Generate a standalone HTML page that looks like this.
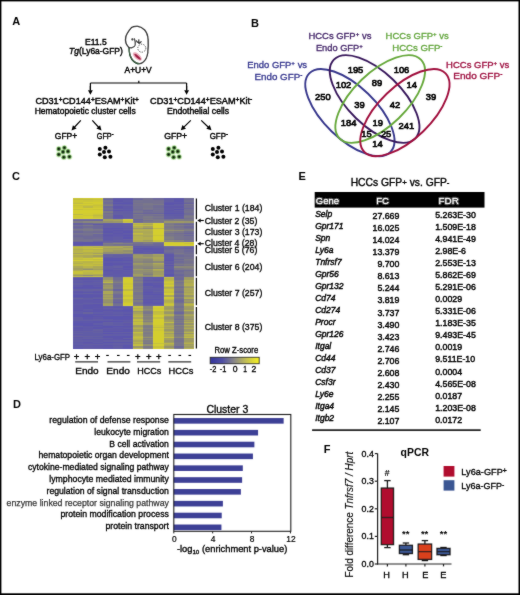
<!DOCTYPE html>
<html><head><meta charset="utf-8"><style>
html,body{margin:0;padding:0;background:#fff;}
#root{position:relative;width:520px;height:595px;overflow:hidden;background:#fff;}
svg{position:absolute;left:0;top:0;font-family:"Liberation Sans", sans-serif;}
</style></head><body><div id="root">
<svg width="520" height="595" viewBox="0 0 520 595">
<defs><filter id="soft" x="0" y="0" width="520" height="595" filterUnits="userSpaceOnUse"><feConvolveMatrix order="3" kernelMatrix="1 2 1 2 28 2 1 2 1" edgeMode="duplicate" preserveAlpha="false"/></filter></defs>
<rect x="0" y="0" width="520" height="595" fill="#fff"/>
<g filter="url(#soft)">
<text x="12.20" y="25.30" font-size="11" text-anchor="start" font-weight="bold" font-style="normal" fill="#000" >A</text>
<text x="251.00" y="27.20" font-size="11" text-anchor="start" font-weight="bold" font-style="normal" fill="#000" >B</text>
<text x="12.00" y="180.00" font-size="11" text-anchor="start" font-weight="bold" font-style="normal" fill="#000" >C</text>
<text x="13.00" y="408.20" font-size="11" text-anchor="start" font-weight="bold" font-style="normal" fill="#000" >D</text>
<text x="298.60" y="179.60" font-size="11" text-anchor="start" font-weight="bold" font-style="normal" fill="#000" >E</text>
<text x="323.80" y="453.00" font-size="11" text-anchor="start" font-weight="bold" font-style="normal" fill="#000" >F</text>
<text x="85.00" y="44.50" font-size="8.8" text-anchor="start" font-weight="normal" font-style="normal" fill="#000" stroke="#000" stroke-width="0.42" textLength="21.70" lengthAdjust="spacingAndGlyphs" >E11.5</text>
<text x="69.10" y="53.60" font-size="8.8" text-anchor="start" font-weight="normal" font-style="normal" fill="#000" stroke="#000" stroke-width="0.42" textLength="53.70" lengthAdjust="spacingAndGlyphs" ><tspan font-style="italic">Tg</tspan>(Ly6a-GFP)</text>
<text x="124.50" y="73.10" font-size="9.2" text-anchor="start" font-weight="normal" font-style="normal" fill="#000" stroke="#000" stroke-width="0.46" textLength="27.20" lengthAdjust="spacingAndGlyphs" >A+U+V</text>
<path d="M131.6,27.5 C133,26.6 135.5,26.2 137.9,26.4 C140.5,26.7 142.8,28.2 144.6,30.0 C146.6,32.2 147.8,35.5 148.1,39.5 C148.4,44 148.2,49 147.7,53 C147.2,57 145.5,60.5 142.7,62.5 C140.5,64 137.8,63.9 135.6,62.6 C132.5,60.8 130.5,57.5 129.7,54 C129.2,51.5 129.2,49.5 129.2,47.9 C128,46.5 126.6,45 126,43 C125.4,41 125.4,38.5 125.9,36.5 C126.6,34 128,32 129.4,30.1 C130.2,29.1 130.9,28.2 131.6,27.5 Z" fill="#fff" stroke="#111" stroke-width="1.25"/>
<path d="M129.2,47.9 C129.2,49.5 129.2,51.5 129.7,54 C130.5,57.5 132.5,60.8 135.6,62.6 C136.8,63.3 138.2,63.7 139.6,63.7" fill="none" stroke="#2a5a35" stroke-width="1.3"/>
<ellipse cx="137.3" cy="56.4" rx="5.6" ry="2.7" transform="rotate(42 137.3 56.4)" fill="#eaa6b6" opacity="0.9"/>
<ellipse cx="137.6" cy="56.8" rx="4.2" ry="1.2" transform="rotate(42 137.6 56.8)" fill="#a01040"/>
<circle cx="141.8" cy="48.2" r="4.0" fill="none" stroke="#333" stroke-width="1.0" stroke-dasharray="1.2,1.3"/>
<circle cx="132.4" cy="39.4" r="1.1" fill="#111"/>
<path d="M134.4,38.4 C135.1,40.8 135.6,43.2 135.2,45.2 M136.3,40.4 C136.7,41.8 137.3,42.8 138.8,42.6 M138.7,39.4 L139.0,43.4 C139.8,43.3 140.8,42.4 141.4,41.2 M135.2,45.2 C134.6,46.2 133.8,46.9 132.8,47.3 M129.3,47.1 C130.2,47.8 131.4,48.2 132.8,47.3" fill="none" stroke="#111" stroke-width="1.1"/>
<g stroke="#000" stroke-width="1" fill="none">
<path d="M90.4,83 H186.6 M138.8,80.8 V83 M90.4,83 V90 M186.6,83 V90" stroke-width="1.2"/>
</g>
<line x1="90.40" y1="86.00" x2="90.40" y2="90.70" stroke="#000" stroke-width="1.2"/>
<path d="M90.40,94.80 L88.00,90.20 L92.80,90.20 Z" fill="#000"/>
<line x1="186.60" y1="86.00" x2="186.60" y2="90.70" stroke="#000" stroke-width="1.2"/>
<path d="M186.60,94.80 L184.20,90.20 L189.00,90.20 Z" fill="#000"/>
<line x1="80.80" y1="120.40" x2="74.43" y2="127.25" stroke="#000" stroke-width="1.2"/>
<path d="M71.50,130.40 L72.94,125.18 L76.60,128.59 Z" fill="#000"/>
<line x1="92.30" y1="120.40" x2="98.59" y2="127.24" stroke="#000" stroke-width="1.2"/>
<path d="M101.50,130.40 L96.41,128.56 L100.09,125.17 Z" fill="#000"/>
<line x1="190.80" y1="120.40" x2="183.87" y2="127.19" stroke="#000" stroke-width="1.2"/>
<path d="M180.80,130.20 L182.48,125.05 L185.98,128.63 Z" fill="#000"/>
<line x1="201.20" y1="120.40" x2="208.38" y2="127.24" stroke="#000" stroke-width="1.2"/>
<path d="M211.50,130.20 L206.30,128.70 L209.75,125.08 Z" fill="#000"/>
<text x="35.40" y="103.60" font-size="9" text-anchor="start" font-weight="normal" font-style="normal" fill="#000" stroke="#000" stroke-width="0.42" textLength="103.50" lengthAdjust="spacingAndGlyphs" >CD31<tspan font-size="6.5" baseline-shift="2.4">+</tspan>CD144<tspan font-size="6.5" baseline-shift="2.4">+</tspan>ESAM<tspan font-size="6.5" baseline-shift="2.4">+</tspan>Kit<tspan font-size="6.5" baseline-shift="2.4">+</tspan></text>
<text x="34.70" y="114.00" font-size="9" text-anchor="start" font-weight="normal" font-style="normal" fill="#000" stroke="#000" stroke-width="0.42" textLength="101.00" lengthAdjust="spacingAndGlyphs" >Hematopoietic cluster cells</text>
<text x="150.10" y="103.60" font-size="9" text-anchor="start" font-weight="normal" font-style="normal" fill="#000" stroke="#000" stroke-width="0.42" textLength="102.20" lengthAdjust="spacingAndGlyphs" >CD31<tspan font-size="6.5" baseline-shift="2.4">+</tspan>CD144<tspan font-size="6.5" baseline-shift="2.4">+</tspan>ESAM<tspan font-size="6.5" baseline-shift="2.4">+</tspan>Kit<tspan font-size="6.5" baseline-shift="3.2">-</tspan></text>
<text x="166.90" y="114.00" font-size="9" text-anchor="start" font-weight="normal" font-style="normal" fill="#000" stroke="#000" stroke-width="0.42" textLength="62.20" lengthAdjust="spacingAndGlyphs" >Endothelial cells</text>
<text x="54.80" y="139.40" font-size="9" text-anchor="start" font-weight="normal" font-style="normal" fill="#000" stroke="#000" stroke-width="0.42" textLength="22.40" lengthAdjust="spacingAndGlyphs" >GFP+</text>
<text x="96.80" y="139.40" font-size="9" text-anchor="start" font-weight="normal" font-style="normal" fill="#000" stroke="#000" stroke-width="0.42" textLength="16.80" lengthAdjust="spacingAndGlyphs" >GFP<tspan font-size="7" baseline-shift="3.2">-</tspan></text>
<text x="164.30" y="139.40" font-size="9" text-anchor="start" font-weight="normal" font-style="normal" fill="#000" stroke="#000" stroke-width="0.42" textLength="22.90" lengthAdjust="spacingAndGlyphs" >GFP+</text>
<text x="209.70" y="139.40" font-size="9" text-anchor="start" font-weight="normal" font-style="normal" fill="#000" stroke="#000" stroke-width="0.42" textLength="18.30" lengthAdjust="spacingAndGlyphs" >GFP<tspan font-size="7" baseline-shift="3.2">-</tspan></text>
<g>
<circle cx="58.80" cy="148.90" r="2.9" fill="#c4e8b0" opacity="0.85"/>
<circle cx="64.40" cy="147.80" r="2.9" fill="#c4e8b0" opacity="0.85"/>
<circle cx="63.00" cy="151.90" r="2.9" fill="#c4e8b0" opacity="0.85"/>
<circle cx="68.00" cy="151.40" r="2.9" fill="#c4e8b0" opacity="0.85"/>
<circle cx="58.80" cy="154.50" r="2.9" fill="#c4e8b0" opacity="0.85"/>
<circle cx="63.80" cy="157.20" r="2.9" fill="#c4e8b0" opacity="0.85"/>
<circle cx="69.40" cy="156.80" r="2.9" fill="#c4e8b0" opacity="0.85"/>
<circle cx="58.80" cy="148.90" r="2.05" fill="#3c7a2c"/>
<circle cx="64.40" cy="147.80" r="2.05" fill="#3c7a2c"/>
<circle cx="63.00" cy="151.90" r="2.05" fill="#3c7a2c"/>
<circle cx="68.00" cy="151.40" r="2.05" fill="#3c7a2c"/>
<circle cx="58.80" cy="154.50" r="2.05" fill="#3c7a2c"/>
<circle cx="63.80" cy="157.20" r="2.05" fill="#3c7a2c"/>
<circle cx="69.40" cy="156.80" r="2.05" fill="#3c7a2c"/>
<circle cx="58.80" cy="148.90" r="1.15" fill="#050505"/>
<circle cx="64.40" cy="147.80" r="1.15" fill="#050505"/>
<circle cx="63.00" cy="151.90" r="1.15" fill="#050505"/>
<circle cx="68.00" cy="151.40" r="1.15" fill="#050505"/>
<circle cx="58.80" cy="154.50" r="1.15" fill="#050505"/>
<circle cx="63.80" cy="157.20" r="1.15" fill="#050505"/>
<circle cx="69.40" cy="156.80" r="1.15" fill="#050505"/>
</g>
<circle cx="99.80" cy="148.90" r="2.0" fill="#000"/>
<circle cx="105.40" cy="147.80" r="2.0" fill="#000"/>
<circle cx="104.00" cy="151.90" r="2.0" fill="#000"/>
<circle cx="109.00" cy="151.40" r="2.0" fill="#000"/>
<circle cx="99.80" cy="154.50" r="2.0" fill="#000"/>
<circle cx="104.80" cy="157.20" r="2.0" fill="#000"/>
<circle cx="110.40" cy="156.80" r="2.0" fill="#000"/>
<g>
<circle cx="168.60" cy="148.90" r="2.9" fill="#c4e8b0" opacity="0.85"/>
<circle cx="174.20" cy="147.80" r="2.9" fill="#c4e8b0" opacity="0.85"/>
<circle cx="172.80" cy="151.90" r="2.9" fill="#c4e8b0" opacity="0.85"/>
<circle cx="177.80" cy="151.40" r="2.9" fill="#c4e8b0" opacity="0.85"/>
<circle cx="168.60" cy="154.50" r="2.9" fill="#c4e8b0" opacity="0.85"/>
<circle cx="173.60" cy="157.20" r="2.9" fill="#c4e8b0" opacity="0.85"/>
<circle cx="179.20" cy="156.80" r="2.9" fill="#c4e8b0" opacity="0.85"/>
<circle cx="168.60" cy="148.90" r="2.05" fill="#3c7a2c"/>
<circle cx="174.20" cy="147.80" r="2.05" fill="#3c7a2c"/>
<circle cx="172.80" cy="151.90" r="2.05" fill="#3c7a2c"/>
<circle cx="177.80" cy="151.40" r="2.05" fill="#3c7a2c"/>
<circle cx="168.60" cy="154.50" r="2.05" fill="#3c7a2c"/>
<circle cx="173.60" cy="157.20" r="2.05" fill="#3c7a2c"/>
<circle cx="179.20" cy="156.80" r="2.05" fill="#3c7a2c"/>
<circle cx="168.60" cy="148.90" r="1.15" fill="#050505"/>
<circle cx="174.20" cy="147.80" r="1.15" fill="#050505"/>
<circle cx="172.80" cy="151.90" r="1.15" fill="#050505"/>
<circle cx="177.80" cy="151.40" r="1.15" fill="#050505"/>
<circle cx="168.60" cy="154.50" r="1.15" fill="#050505"/>
<circle cx="173.60" cy="157.20" r="1.15" fill="#050505"/>
<circle cx="179.20" cy="156.80" r="1.15" fill="#050505"/>
</g>
<circle cx="212.80" cy="148.90" r="2.0" fill="#000"/>
<circle cx="218.40" cy="147.80" r="2.0" fill="#000"/>
<circle cx="217.00" cy="151.90" r="2.0" fill="#000"/>
<circle cx="222.00" cy="151.40" r="2.0" fill="#000"/>
<circle cx="212.80" cy="154.50" r="2.0" fill="#000"/>
<circle cx="217.80" cy="157.20" r="2.0" fill="#000"/>
<circle cx="223.40" cy="156.80" r="2.0" fill="#000"/>
<ellipse cx="349.90" cy="112.60" rx="56.50" ry="26.20" transform="rotate(44.00 349.90 112.60)" fill="none" stroke="#37378c" stroke-width="1.9"/>
<ellipse cx="374.60" cy="99.00" rx="56.60" ry="26.70" transform="rotate(44.00 374.60 99.00)" fill="none" stroke="#38195c" stroke-width="1.9"/>
<ellipse cx="380.20" cy="99.00" rx="56.60" ry="26.70" transform="rotate(-44.00 380.20 99.00)" fill="none" stroke="#66a83a" stroke-width="1.9"/>
<ellipse cx="404.90" cy="112.60" rx="56.50" ry="26.20" transform="rotate(-44.00 404.90 112.60)" fill="none" stroke="#a0103c" stroke-width="1.9"/>
<text x="355.50" y="72.80" font-size="9.4" text-anchor="middle" font-weight="normal" font-style="normal" fill="#000" stroke="#000" stroke-width="0.63" >195</text>
<text x="343.50" y="88.10" font-size="9.4" text-anchor="middle" font-weight="normal" font-style="normal" fill="#000" stroke="#000" stroke-width="0.63" >102</text>
<text x="377.00" y="85.50" font-size="9.4" text-anchor="middle" font-weight="normal" font-style="normal" fill="#000" stroke="#000" stroke-width="0.63" >89</text>
<text x="322.80" y="99.70" font-size="9.4" text-anchor="middle" font-weight="normal" font-style="normal" fill="#000" stroke="#000" stroke-width="0.63" >250</text>
<text x="359.50" y="108.20" font-size="9.4" text-anchor="middle" font-weight="normal" font-style="normal" fill="#000" stroke="#000" stroke-width="0.63" >39</text>
<text x="348.60" y="126.30" font-size="9.4" text-anchor="middle" font-weight="normal" font-style="normal" fill="#000" stroke="#000" stroke-width="0.63" >184</text>
<text x="377.80" y="126.30" font-size="9.4" text-anchor="middle" font-weight="normal" font-style="normal" fill="#000" stroke="#000" stroke-width="0.63" >19</text>
<text x="366.50" y="136.80" font-size="9.4" text-anchor="middle" font-weight="normal" font-style="normal" fill="#000" stroke="#000" stroke-width="0.63" >15</text>
<text x="386.10" y="136.80" font-size="9.4" text-anchor="middle" font-weight="normal" font-style="normal" fill="#000" stroke="#000" stroke-width="0.63" >25</text>
<text x="377.40" y="147.10" font-size="9.4" text-anchor="middle" font-weight="normal" font-style="normal" fill="#000" stroke="#000" stroke-width="0.63" >14</text>
<text x="401.50" y="72.80" font-size="9.4" text-anchor="middle" font-weight="normal" font-style="normal" fill="#000" stroke="#000" stroke-width="0.63" >106</text>
<text x="411.80" y="88.10" font-size="9.4" text-anchor="middle" font-weight="normal" font-style="normal" fill="#000" stroke="#000" stroke-width="0.63" >14</text>
<text x="431.00" y="99.70" font-size="9.4" text-anchor="middle" font-weight="normal" font-style="normal" fill="#000" stroke="#000" stroke-width="0.63" >39</text>
<text x="395.00" y="108.20" font-size="9.4" text-anchor="middle" font-weight="normal" font-style="normal" fill="#000" stroke="#000" stroke-width="0.63" >42</text>
<text x="406.30" y="128.50" font-size="9.4" text-anchor="middle" font-weight="normal" font-style="normal" fill="#000" stroke="#000" stroke-width="0.63" >241</text>
<text x="308.40" y="39.40" font-size="9.2" text-anchor="start" font-weight="normal" font-style="normal" fill="#45286a" stroke="#45286a" stroke-width="0.32" textLength="63.00" lengthAdjust="spacingAndGlyphs" >HCCs GFP<tspan font-size="6" baseline-shift="3">+</tspan> vs</text>
<text x="315.90" y="51.00" font-size="9.2" text-anchor="start" font-weight="normal" font-style="normal" fill="#45286a" stroke="#45286a" stroke-width="0.32" textLength="46.90" lengthAdjust="spacingAndGlyphs" >Endo GFP<tspan font-size="6" baseline-shift="3">+</tspan></text>
<text x="247.20" y="67.90" font-size="9.2" text-anchor="start" font-weight="normal" font-style="normal" fill="#37388f" stroke="#37388f" stroke-width="0.32" textLength="59.90" lengthAdjust="spacingAndGlyphs" >Endo GFP<tspan font-size="6" baseline-shift="3">+</tspan> vs</text>
<text x="254.50" y="79.60" font-size="9.2" text-anchor="start" font-weight="normal" font-style="normal" fill="#37388f" stroke="#37388f" stroke-width="0.32" textLength="47.80" lengthAdjust="spacingAndGlyphs" >Endo GFP<tspan font-size="6" baseline-shift="3">-</tspan></text>
<text x="385.60" y="38.80" font-size="9.2" text-anchor="start" font-weight="normal" font-style="normal" fill="#64a63e" stroke="#64a63e" stroke-width="0.32" textLength="63.20" lengthAdjust="spacingAndGlyphs" >HCCs GFP<tspan font-size="6" baseline-shift="3">+</tspan> vs</text>
<text x="392.20" y="51.00" font-size="9.2" text-anchor="start" font-weight="normal" font-style="normal" fill="#64a63e" stroke="#64a63e" stroke-width="0.32" textLength="50.20" lengthAdjust="spacingAndGlyphs" >HCCs GFP<tspan font-size="6" baseline-shift="3">-</tspan></text>
<text x="446.10" y="67.60" font-size="9.2" text-anchor="start" font-weight="normal" font-style="normal" fill="#9e1040" stroke="#9e1040" stroke-width="0.32" textLength="63.20" lengthAdjust="spacingAndGlyphs" >HCCs GFP<tspan font-size="6" baseline-shift="3">+</tspan> vs</text>
<text x="453.30" y="79.10" font-size="9.2" text-anchor="start" font-weight="normal" font-style="normal" fill="#9e1040" stroke="#9e1040" stroke-width="0.32" textLength="49.10" lengthAdjust="spacingAndGlyphs" >Endo GFP<tspan font-size="6" baseline-shift="3">-</tspan></text>
<g shape-rendering="crispEdges">
<rect x="72.70" y="197.90" width="10.14" height="1.28" fill="#cbc637"/>
<rect x="82.79" y="197.90" width="10.14" height="1.28" fill="#d0ca32"/>
<rect x="92.88" y="197.90" width="10.14" height="1.28" fill="#d4ce2e"/>
<rect x="102.97" y="197.90" width="10.14" height="1.28" fill="#76738e"/>
<rect x="113.07" y="197.90" width="10.14" height="1.28" fill="#635da4"/>
<rect x="123.16" y="197.90" width="10.14" height="1.28" fill="#615ca6"/>
<rect x="133.25" y="197.90" width="10.14" height="1.28" fill="#706c95"/>
<rect x="143.34" y="197.90" width="10.14" height="1.28" fill="#737091"/>
<rect x="153.43" y="197.90" width="10.14" height="1.28" fill="#6a659c"/>
<rect x="163.53" y="197.90" width="10.14" height="1.28" fill="#605aa7"/>
<rect x="173.62" y="197.90" width="10.14" height="1.28" fill="#5f5aa8"/>
<rect x="183.71" y="197.90" width="10.14" height="1.28" fill="#726e93"/>
<rect x="72.70" y="199.13" width="10.14" height="1.28" fill="#c2bd40"/>
<rect x="82.79" y="199.13" width="10.14" height="1.28" fill="#c0bb42"/>
<rect x="92.88" y="199.13" width="10.14" height="1.28" fill="#c4bf3e"/>
<rect x="102.97" y="199.13" width="10.14" height="1.28" fill="#6662a0"/>
<rect x="113.07" y="199.13" width="10.14" height="1.28" fill="#5b55ad"/>
<rect x="123.16" y="199.13" width="10.14" height="1.28" fill="#5b55ad"/>
<rect x="133.25" y="199.13" width="10.14" height="1.28" fill="#69659d"/>
<rect x="143.34" y="199.13" width="10.14" height="1.28" fill="#747190"/>
<rect x="153.43" y="199.13" width="10.14" height="1.28" fill="#6d6999"/>
<rect x="163.53" y="199.13" width="10.14" height="1.28" fill="#605ba7"/>
<rect x="173.62" y="199.13" width="10.14" height="1.28" fill="#5c57ab"/>
<rect x="183.71" y="199.13" width="10.14" height="1.28" fill="#6d6998"/>
<rect x="72.70" y="200.35" width="10.14" height="1.28" fill="#cdc835"/>
<rect x="82.79" y="200.35" width="10.14" height="1.28" fill="#cac538"/>
<rect x="92.88" y="200.35" width="10.14" height="1.28" fill="#cdc735"/>
<rect x="102.97" y="200.35" width="10.14" height="1.28" fill="#75728f"/>
<rect x="113.07" y="200.35" width="10.14" height="1.28" fill="#5d57aa"/>
<rect x="123.16" y="200.35" width="10.14" height="1.28" fill="#5f5aa8"/>
<rect x="133.25" y="200.35" width="10.14" height="1.28" fill="#75728f"/>
<rect x="143.34" y="200.35" width="10.14" height="1.28" fill="#737091"/>
<rect x="153.43" y="200.35" width="10.14" height="1.28" fill="#747090"/>
<rect x="163.53" y="200.35" width="10.14" height="1.28" fill="#625da4"/>
<rect x="173.62" y="200.35" width="10.14" height="1.28" fill="#5c56ac"/>
<rect x="183.71" y="200.35" width="10.14" height="1.28" fill="#726f92"/>
<rect x="72.70" y="201.58" width="10.14" height="1.28" fill="#cac438"/>
<rect x="82.79" y="201.58" width="10.14" height="1.28" fill="#d4ce2e"/>
<rect x="92.88" y="201.58" width="10.14" height="1.28" fill="#d4ce2e"/>
<rect x="102.97" y="201.58" width="10.14" height="1.28" fill="#706c94"/>
<rect x="113.07" y="201.58" width="10.14" height="1.28" fill="#605aa8"/>
<rect x="123.16" y="201.58" width="10.14" height="1.28" fill="#5d58aa"/>
<rect x="133.25" y="201.58" width="10.14" height="1.28" fill="#737091"/>
<rect x="143.34" y="201.58" width="10.14" height="1.28" fill="#736f91"/>
<rect x="153.43" y="201.58" width="10.14" height="1.28" fill="#75718f"/>
<rect x="163.53" y="201.58" width="10.14" height="1.28" fill="#5e58aa"/>
<rect x="173.62" y="201.58" width="10.14" height="1.28" fill="#5e58a9"/>
<rect x="183.71" y="201.58" width="10.14" height="1.28" fill="#6e6a97"/>
<rect x="72.70" y="202.81" width="10.14" height="1.28" fill="#c0bb42"/>
<rect x="82.79" y="202.81" width="10.14" height="1.28" fill="#cac538"/>
<rect x="92.88" y="202.81" width="10.14" height="1.28" fill="#d2cc30"/>
<rect x="102.97" y="202.81" width="10.14" height="1.28" fill="#716d94"/>
<rect x="113.07" y="202.81" width="10.14" height="1.28" fill="#5a54ae"/>
<rect x="123.16" y="202.81" width="10.14" height="1.28" fill="#5a54ae"/>
<rect x="133.25" y="202.81" width="10.14" height="1.28" fill="#78758b"/>
<rect x="143.34" y="202.81" width="10.14" height="1.28" fill="#79768a"/>
<rect x="153.43" y="202.81" width="10.14" height="1.28" fill="#747090"/>
<rect x="163.53" y="202.81" width="10.14" height="1.28" fill="#5b55ad"/>
<rect x="173.62" y="202.81" width="10.14" height="1.28" fill="#5c56ac"/>
<rect x="183.71" y="202.81" width="10.14" height="1.28" fill="#67629f"/>
<rect x="72.70" y="204.03" width="10.14" height="1.28" fill="#d4ce2e"/>
<rect x="82.79" y="204.03" width="10.14" height="1.28" fill="#d4ce2e"/>
<rect x="92.88" y="204.03" width="10.14" height="1.28" fill="#cdc835"/>
<rect x="102.97" y="204.03" width="10.14" height="1.28" fill="#78758b"/>
<rect x="113.07" y="204.03" width="10.14" height="1.28" fill="#625da5"/>
<rect x="123.16" y="204.03" width="10.14" height="1.28" fill="#615ca6"/>
<rect x="133.25" y="204.03" width="10.14" height="1.28" fill="#737091"/>
<rect x="143.34" y="204.03" width="10.14" height="1.28" fill="#7b7888"/>
<rect x="153.43" y="204.03" width="10.14" height="1.28" fill="#7b7988"/>
<rect x="163.53" y="204.03" width="10.14" height="1.28" fill="#5d57aa"/>
<rect x="173.62" y="204.03" width="10.14" height="1.28" fill="#605ba7"/>
<rect x="183.71" y="204.03" width="10.14" height="1.28" fill="#79768b"/>
<rect x="72.70" y="205.26" width="10.14" height="1.28" fill="#c7c23b"/>
<rect x="82.79" y="205.26" width="10.14" height="1.28" fill="#c9c339"/>
<rect x="92.88" y="205.26" width="10.14" height="1.28" fill="#c6c03c"/>
<rect x="102.97" y="205.26" width="10.14" height="1.28" fill="#7e7c84"/>
<rect x="113.07" y="205.26" width="10.14" height="1.28" fill="#625da5"/>
<rect x="123.16" y="205.26" width="10.14" height="1.28" fill="#635ea4"/>
<rect x="133.25" y="205.26" width="10.14" height="1.28" fill="#76738e"/>
<rect x="143.34" y="205.26" width="10.14" height="1.28" fill="#77748c"/>
<rect x="153.43" y="205.26" width="10.14" height="1.28" fill="#706d94"/>
<rect x="163.53" y="205.26" width="10.14" height="1.28" fill="#605ba7"/>
<rect x="173.62" y="205.26" width="10.14" height="1.28" fill="#625ca5"/>
<rect x="183.71" y="205.26" width="10.14" height="1.28" fill="#706c95"/>
<rect x="72.70" y="206.49" width="10.14" height="1.28" fill="#cdc735"/>
<rect x="82.79" y="206.49" width="10.14" height="1.28" fill="#beb944"/>
<rect x="92.88" y="206.49" width="10.14" height="1.28" fill="#ccc636"/>
<rect x="102.97" y="206.49" width="10.14" height="1.28" fill="#6d6998"/>
<rect x="113.07" y="206.49" width="10.14" height="1.28" fill="#5d57aa"/>
<rect x="123.16" y="206.49" width="10.14" height="1.28" fill="#605aa7"/>
<rect x="133.25" y="206.49" width="10.14" height="1.28" fill="#736f92"/>
<rect x="143.34" y="206.49" width="10.14" height="1.28" fill="#76738e"/>
<rect x="153.43" y="206.49" width="10.14" height="1.28" fill="#706c94"/>
<rect x="163.53" y="206.49" width="10.14" height="1.28" fill="#5e59a9"/>
<rect x="173.62" y="206.49" width="10.14" height="1.28" fill="#5e59a9"/>
<rect x="183.71" y="206.49" width="10.14" height="1.28" fill="#726e92"/>
<rect x="72.70" y="207.72" width="10.14" height="1.28" fill="#d4ce2e"/>
<rect x="82.79" y="207.72" width="10.14" height="1.28" fill="#d4ce2e"/>
<rect x="92.88" y="207.72" width="10.14" height="1.28" fill="#d4ce2e"/>
<rect x="102.97" y="207.72" width="10.14" height="1.28" fill="#75718f"/>
<rect x="113.07" y="207.72" width="10.14" height="1.28" fill="#5f59a8"/>
<rect x="123.16" y="207.72" width="10.14" height="1.28" fill="#5f5aa8"/>
<rect x="133.25" y="207.72" width="10.14" height="1.28" fill="#737091"/>
<rect x="143.34" y="207.72" width="10.14" height="1.28" fill="#7a7789"/>
<rect x="153.43" y="207.72" width="10.14" height="1.28" fill="#726f92"/>
<rect x="163.53" y="207.72" width="10.14" height="1.28" fill="#605aa7"/>
<rect x="173.62" y="207.72" width="10.14" height="1.28" fill="#635ea4"/>
<rect x="183.71" y="207.72" width="10.14" height="1.28" fill="#6a669b"/>
<rect x="72.70" y="208.94" width="10.14" height="1.28" fill="#c4bf3e"/>
<rect x="82.79" y="208.94" width="10.14" height="1.28" fill="#cbc637"/>
<rect x="92.88" y="208.94" width="10.14" height="1.28" fill="#c9c339"/>
<rect x="102.97" y="208.94" width="10.14" height="1.28" fill="#726e93"/>
<rect x="113.07" y="208.94" width="10.14" height="1.28" fill="#6560a2"/>
<rect x="123.16" y="208.94" width="10.14" height="1.28" fill="#605ba7"/>
<rect x="133.25" y="208.94" width="10.14" height="1.28" fill="#716d94"/>
<rect x="143.34" y="208.94" width="10.14" height="1.28" fill="#76738e"/>
<rect x="153.43" y="208.94" width="10.14" height="1.28" fill="#726e93"/>
<rect x="163.53" y="208.94" width="10.14" height="1.28" fill="#605aa8"/>
<rect x="173.62" y="208.94" width="10.14" height="1.28" fill="#5a54ae"/>
<rect x="183.71" y="208.94" width="10.14" height="1.28" fill="#726e93"/>
<rect x="72.70" y="210.17" width="10.14" height="1.28" fill="#d4ce2e"/>
<rect x="82.79" y="210.17" width="10.14" height="1.28" fill="#d4ce2e"/>
<rect x="92.88" y="210.17" width="10.14" height="1.28" fill="#d4ce2e"/>
<rect x="102.97" y="210.17" width="10.14" height="1.28" fill="#6a669b"/>
<rect x="113.07" y="210.17" width="10.14" height="1.28" fill="#5b55ad"/>
<rect x="123.16" y="210.17" width="10.14" height="1.28" fill="#5d57ab"/>
<rect x="133.25" y="210.17" width="10.14" height="1.28" fill="#736f91"/>
<rect x="143.34" y="210.17" width="10.14" height="1.28" fill="#6c679a"/>
<rect x="153.43" y="210.17" width="10.14" height="1.28" fill="#736f91"/>
<rect x="163.53" y="210.17" width="10.14" height="1.28" fill="#5f59a9"/>
<rect x="173.62" y="210.17" width="10.14" height="1.28" fill="#635ea4"/>
<rect x="183.71" y="210.17" width="10.14" height="1.28" fill="#736f91"/>
<rect x="72.70" y="211.40" width="10.14" height="1.28" fill="#d4ce2e"/>
<rect x="82.79" y="211.40" width="10.14" height="1.28" fill="#d4ce2e"/>
<rect x="92.88" y="211.40" width="10.14" height="1.28" fill="#d4ce2e"/>
<rect x="102.97" y="211.40" width="10.14" height="1.28" fill="#7d7b85"/>
<rect x="113.07" y="211.40" width="10.14" height="1.28" fill="#645fa2"/>
<rect x="123.16" y="211.40" width="10.14" height="1.28" fill="#625da5"/>
<rect x="133.25" y="211.40" width="10.14" height="1.28" fill="#77748c"/>
<rect x="143.34" y="211.40" width="10.14" height="1.28" fill="#706c95"/>
<rect x="153.43" y="211.40" width="10.14" height="1.28" fill="#726e93"/>
<rect x="163.53" y="211.40" width="10.14" height="1.28" fill="#5f5aa8"/>
<rect x="173.62" y="211.40" width="10.14" height="1.28" fill="#605aa7"/>
<rect x="183.71" y="211.40" width="10.14" height="1.28" fill="#75728f"/>
<rect x="72.70" y="212.62" width="10.14" height="1.28" fill="#d4ce2e"/>
<rect x="82.79" y="212.62" width="10.14" height="1.28" fill="#d1cb31"/>
<rect x="92.88" y="212.62" width="10.14" height="1.28" fill="#d0ca32"/>
<rect x="102.97" y="212.62" width="10.14" height="1.28" fill="#716d93"/>
<rect x="113.07" y="212.62" width="10.14" height="1.28" fill="#635ea3"/>
<rect x="123.16" y="212.62" width="10.14" height="1.28" fill="#625da4"/>
<rect x="133.25" y="212.62" width="10.14" height="1.28" fill="#6c6899"/>
<rect x="143.34" y="212.62" width="10.14" height="1.28" fill="#69649d"/>
<rect x="153.43" y="212.62" width="10.14" height="1.28" fill="#67639f"/>
<rect x="163.53" y="212.62" width="10.14" height="1.28" fill="#5a54ae"/>
<rect x="173.62" y="212.62" width="10.14" height="1.28" fill="#5c57ab"/>
<rect x="183.71" y="212.62" width="10.14" height="1.28" fill="#6e6a97"/>
<rect x="72.70" y="213.85" width="10.14" height="1.28" fill="#beb944"/>
<rect x="82.79" y="213.85" width="10.14" height="1.28" fill="#d2cd30"/>
<rect x="92.88" y="213.85" width="10.14" height="1.28" fill="#c9c439"/>
<rect x="102.97" y="213.85" width="10.14" height="1.28" fill="#79768a"/>
<rect x="113.07" y="213.85" width="10.14" height="1.28" fill="#645fa2"/>
<rect x="123.16" y="213.85" width="10.14" height="1.28" fill="#645fa2"/>
<rect x="133.25" y="213.85" width="10.14" height="1.28" fill="#7a7789"/>
<rect x="143.34" y="213.85" width="10.14" height="1.28" fill="#76738d"/>
<rect x="153.43" y="213.85" width="10.14" height="1.28" fill="#79768a"/>
<rect x="163.53" y="213.85" width="10.14" height="1.28" fill="#615ca5"/>
<rect x="173.62" y="213.85" width="10.14" height="1.28" fill="#615ca5"/>
<rect x="183.71" y="213.85" width="10.14" height="1.28" fill="#706d94"/>
<rect x="72.70" y="215.08" width="10.14" height="1.28" fill="#d4ce2e"/>
<rect x="82.79" y="215.08" width="10.14" height="1.28" fill="#cac438"/>
<rect x="92.88" y="215.08" width="10.14" height="1.28" fill="#bdb845"/>
<rect x="102.97" y="215.08" width="10.14" height="1.28" fill="#77738d"/>
<rect x="113.07" y="215.08" width="10.14" height="1.28" fill="#5e59a9"/>
<rect x="123.16" y="215.08" width="10.14" height="1.28" fill="#635ea3"/>
<rect x="133.25" y="215.08" width="10.14" height="1.28" fill="#726e93"/>
<rect x="143.34" y="215.08" width="10.14" height="1.28" fill="#736f91"/>
<rect x="153.43" y="215.08" width="10.14" height="1.28" fill="#716d94"/>
<rect x="163.53" y="215.08" width="10.14" height="1.28" fill="#615ca6"/>
<rect x="173.62" y="215.08" width="10.14" height="1.28" fill="#605aa8"/>
<rect x="183.71" y="215.08" width="10.14" height="1.28" fill="#77748d"/>
<rect x="72.70" y="216.30" width="10.14" height="1.28" fill="#cfc933"/>
<rect x="82.79" y="216.30" width="10.14" height="1.28" fill="#d4ce2e"/>
<rect x="92.88" y="216.30" width="10.14" height="1.28" fill="#c8c23a"/>
<rect x="102.97" y="216.30" width="10.14" height="1.28" fill="#75718f"/>
<rect x="113.07" y="216.30" width="10.14" height="1.28" fill="#5e58a9"/>
<rect x="123.16" y="216.30" width="10.14" height="1.28" fill="#645fa2"/>
<rect x="133.25" y="216.30" width="10.14" height="1.28" fill="#75718f"/>
<rect x="143.34" y="216.30" width="10.14" height="1.28" fill="#7c7a87"/>
<rect x="153.43" y="216.30" width="10.14" height="1.28" fill="#78758c"/>
<rect x="163.53" y="216.30" width="10.14" height="1.28" fill="#635ea3"/>
<rect x="173.62" y="216.30" width="10.14" height="1.28" fill="#625da4"/>
<rect x="183.71" y="216.30" width="10.14" height="1.28" fill="#7c7987"/>
<rect x="72.70" y="217.53" width="10.14" height="1.28" fill="#d4ce2e"/>
<rect x="82.79" y="217.53" width="10.14" height="1.28" fill="#d4ce2e"/>
<rect x="92.88" y="217.53" width="10.14" height="1.28" fill="#d4ce2e"/>
<rect x="102.97" y="217.53" width="10.14" height="1.28" fill="#75728e"/>
<rect x="113.07" y="217.53" width="10.14" height="1.28" fill="#5c56ac"/>
<rect x="123.16" y="217.53" width="10.14" height="1.28" fill="#5e58a9"/>
<rect x="133.25" y="217.53" width="10.14" height="1.28" fill="#76738e"/>
<rect x="143.34" y="217.53" width="10.14" height="1.28" fill="#79768a"/>
<rect x="153.43" y="217.53" width="10.14" height="1.28" fill="#736f91"/>
<rect x="163.53" y="217.53" width="10.14" height="1.28" fill="#635ea3"/>
<rect x="173.62" y="217.53" width="10.14" height="1.28" fill="#625da5"/>
<rect x="183.71" y="217.53" width="10.14" height="1.28" fill="#747190"/>
<rect x="72.70" y="218.76" width="10.14" height="1.37" fill="#6d6899"/>
<rect x="82.79" y="218.76" width="10.14" height="1.37" fill="#6d6998"/>
<rect x="92.88" y="218.76" width="10.14" height="1.37" fill="#69649d"/>
<rect x="102.97" y="218.76" width="10.14" height="1.37" fill="#a39f5f"/>
<rect x="113.07" y="218.76" width="10.14" height="1.37" fill="#9c9966"/>
<rect x="123.16" y="218.76" width="10.14" height="1.37" fill="#cfc933"/>
<rect x="133.25" y="218.76" width="10.14" height="1.37" fill="#6c6899"/>
<rect x="143.34" y="218.76" width="10.14" height="1.37" fill="#7e7c84"/>
<rect x="153.43" y="218.76" width="10.14" height="1.37" fill="#7b7988"/>
<rect x="163.53" y="218.76" width="10.14" height="1.37" fill="#75728f"/>
<rect x="173.62" y="218.76" width="10.14" height="1.37" fill="#817f81"/>
<rect x="183.71" y="218.76" width="10.14" height="1.37" fill="#7c7987"/>
<rect x="72.70" y="220.08" width="10.14" height="1.37" fill="#6e6a97"/>
<rect x="82.79" y="220.08" width="10.14" height="1.37" fill="#6e6a97"/>
<rect x="92.88" y="220.08" width="10.14" height="1.37" fill="#6c679a"/>
<rect x="102.97" y="220.08" width="10.14" height="1.37" fill="#a39f5f"/>
<rect x="113.07" y="220.08" width="10.14" height="1.37" fill="#a9a559"/>
<rect x="123.16" y="220.08" width="10.14" height="1.37" fill="#cec834"/>
<rect x="133.25" y="220.08" width="10.14" height="1.37" fill="#716d94"/>
<rect x="143.34" y="220.08" width="10.14" height="1.37" fill="#737091"/>
<rect x="153.43" y="220.08" width="10.14" height="1.37" fill="#7c7a87"/>
<rect x="163.53" y="220.08" width="10.14" height="1.37" fill="#7f7d83"/>
<rect x="173.62" y="220.08" width="10.14" height="1.37" fill="#7f7c84"/>
<rect x="183.71" y="220.08" width="10.14" height="1.37" fill="#7c7987"/>
<rect x="72.70" y="221.40" width="10.14" height="1.37" fill="#807e82"/>
<rect x="82.79" y="221.40" width="10.14" height="1.37" fill="#88867a"/>
<rect x="92.88" y="221.40" width="10.14" height="1.37" fill="#8b8977"/>
<rect x="102.97" y="221.40" width="10.14" height="1.37" fill="#96936c"/>
<rect x="113.07" y="221.40" width="10.14" height="1.37" fill="#9a9768"/>
<rect x="123.16" y="221.40" width="10.14" height="1.37" fill="#c5c03d"/>
<rect x="133.25" y="221.40" width="10.14" height="1.37" fill="#6e6a97"/>
<rect x="143.34" y="221.40" width="10.14" height="1.37" fill="#7a7889"/>
<rect x="153.43" y="221.40" width="10.14" height="1.37" fill="#7c7987"/>
<rect x="163.53" y="221.40" width="10.14" height="1.37" fill="#9b9767"/>
<rect x="173.62" y="221.40" width="10.14" height="1.37" fill="#9e9a64"/>
<rect x="183.71" y="221.40" width="10.14" height="1.37" fill="#999569"/>
<rect x="72.70" y="222.73" width="10.14" height="1.28" fill="#6661a0"/>
<rect x="82.79" y="222.73" width="10.14" height="1.28" fill="#6a659c"/>
<rect x="92.88" y="222.73" width="10.14" height="1.28" fill="#706d94"/>
<rect x="102.97" y="222.73" width="10.14" height="1.28" fill="#605ba7"/>
<rect x="113.07" y="222.73" width="10.14" height="1.28" fill="#5f5aa8"/>
<rect x="123.16" y="222.73" width="10.14" height="1.28" fill="#5a54ae"/>
<rect x="133.25" y="222.73" width="10.14" height="1.28" fill="#c1bc41"/>
<rect x="143.34" y="222.73" width="10.14" height="1.28" fill="#b8b44a"/>
<rect x="153.43" y="222.73" width="10.14" height="1.28" fill="#d4ce2e"/>
<rect x="163.53" y="222.73" width="10.14" height="1.28" fill="#7e7b85"/>
<rect x="173.62" y="222.73" width="10.14" height="1.28" fill="#78758b"/>
<rect x="183.71" y="222.73" width="10.14" height="1.28" fill="#747190"/>
<rect x="72.70" y="223.95" width="10.14" height="1.28" fill="#67629f"/>
<rect x="82.79" y="223.95" width="10.14" height="1.28" fill="#6d6899"/>
<rect x="92.88" y="223.95" width="10.14" height="1.28" fill="#5f59a8"/>
<rect x="102.97" y="223.95" width="10.14" height="1.28" fill="#615ba6"/>
<rect x="113.07" y="223.95" width="10.14" height="1.28" fill="#625da4"/>
<rect x="123.16" y="223.95" width="10.14" height="1.28" fill="#625da5"/>
<rect x="133.25" y="223.95" width="10.14" height="1.28" fill="#b4b04e"/>
<rect x="143.34" y="223.95" width="10.14" height="1.28" fill="#a9a559"/>
<rect x="153.43" y="223.95" width="10.14" height="1.28" fill="#d4ce2e"/>
<rect x="163.53" y="223.95" width="10.14" height="1.28" fill="#7b7888"/>
<rect x="173.62" y="223.95" width="10.14" height="1.28" fill="#706d94"/>
<rect x="183.71" y="223.95" width="10.14" height="1.28" fill="#6a669c"/>
<rect x="72.70" y="225.18" width="10.14" height="1.28" fill="#75728f"/>
<rect x="82.79" y="225.18" width="10.14" height="1.28" fill="#7c7a87"/>
<rect x="92.88" y="225.18" width="10.14" height="1.28" fill="#716d93"/>
<rect x="102.97" y="225.18" width="10.14" height="1.28" fill="#605ba7"/>
<rect x="113.07" y="225.18" width="10.14" height="1.28" fill="#625ca5"/>
<rect x="123.16" y="225.18" width="10.14" height="1.28" fill="#635ea4"/>
<rect x="133.25" y="225.18" width="10.14" height="1.28" fill="#c4be3e"/>
<rect x="143.34" y="225.18" width="10.14" height="1.28" fill="#bfba43"/>
<rect x="153.43" y="225.18" width="10.14" height="1.28" fill="#d4ce2e"/>
<rect x="163.53" y="225.18" width="10.14" height="1.28" fill="#828080"/>
<rect x="173.62" y="225.18" width="10.14" height="1.28" fill="#7e7c84"/>
<rect x="183.71" y="225.18" width="10.14" height="1.28" fill="#77748c"/>
<rect x="72.70" y="226.40" width="10.14" height="1.28" fill="#6a669b"/>
<rect x="82.79" y="226.40" width="10.14" height="1.28" fill="#706c94"/>
<rect x="92.88" y="226.40" width="10.14" height="1.28" fill="#6c6899"/>
<rect x="102.97" y="226.40" width="10.14" height="1.28" fill="#625ca5"/>
<rect x="113.07" y="226.40" width="10.14" height="1.28" fill="#615ca6"/>
<rect x="123.16" y="226.40" width="10.14" height="1.28" fill="#625ca5"/>
<rect x="133.25" y="226.40" width="10.14" height="1.28" fill="#b3af4f"/>
<rect x="143.34" y="226.40" width="10.14" height="1.28" fill="#a4a05e"/>
<rect x="153.43" y="226.40" width="10.14" height="1.28" fill="#d4ce2e"/>
<rect x="163.53" y="226.40" width="10.14" height="1.28" fill="#7b7889"/>
<rect x="173.62" y="226.40" width="10.14" height="1.28" fill="#75718f"/>
<rect x="183.71" y="226.40" width="10.14" height="1.28" fill="#6d6998"/>
<rect x="72.70" y="227.63" width="10.14" height="1.28" fill="#6e6a97"/>
<rect x="82.79" y="227.63" width="10.14" height="1.28" fill="#77748d"/>
<rect x="92.88" y="227.63" width="10.14" height="1.28" fill="#6d6998"/>
<rect x="102.97" y="227.63" width="10.14" height="1.28" fill="#5a54ae"/>
<rect x="113.07" y="227.63" width="10.14" height="1.28" fill="#5a54ae"/>
<rect x="123.16" y="227.63" width="10.14" height="1.28" fill="#5f5aa8"/>
<rect x="133.25" y="227.63" width="10.14" height="1.28" fill="#9b9867"/>
<rect x="143.34" y="227.63" width="10.14" height="1.28" fill="#8d8a75"/>
<rect x="153.43" y="227.63" width="10.14" height="1.28" fill="#bab548"/>
<rect x="163.53" y="227.63" width="10.14" height="1.28" fill="#7e7b85"/>
<rect x="173.62" y="227.63" width="10.14" height="1.28" fill="#7a7789"/>
<rect x="183.71" y="227.63" width="10.14" height="1.28" fill="#736f91"/>
<rect x="72.70" y="228.86" width="10.14" height="1.28" fill="#7b7988"/>
<rect x="82.79" y="228.86" width="10.14" height="1.28" fill="#7d7b85"/>
<rect x="92.88" y="228.86" width="10.14" height="1.28" fill="#79778a"/>
<rect x="102.97" y="228.86" width="10.14" height="1.28" fill="#5f59a8"/>
<rect x="113.07" y="228.86" width="10.14" height="1.28" fill="#615ba6"/>
<rect x="123.16" y="228.86" width="10.14" height="1.28" fill="#625da4"/>
<rect x="133.25" y="228.86" width="10.14" height="1.28" fill="#b1ad51"/>
<rect x="143.34" y="228.86" width="10.14" height="1.28" fill="#b1ad51"/>
<rect x="153.43" y="228.86" width="10.14" height="1.28" fill="#d4ce2e"/>
<rect x="163.53" y="228.86" width="10.14" height="1.28" fill="#828080"/>
<rect x="173.62" y="228.86" width="10.14" height="1.28" fill="#7b7888"/>
<rect x="183.71" y="228.86" width="10.14" height="1.28" fill="#7d7a86"/>
<rect x="72.70" y="230.08" width="10.14" height="1.28" fill="#747190"/>
<rect x="82.79" y="230.08" width="10.14" height="1.28" fill="#7c7987"/>
<rect x="92.88" y="230.08" width="10.14" height="1.28" fill="#78758c"/>
<rect x="102.97" y="230.08" width="10.14" height="1.28" fill="#5e59a9"/>
<rect x="113.07" y="230.08" width="10.14" height="1.28" fill="#5c56ac"/>
<rect x="123.16" y="230.08" width="10.14" height="1.28" fill="#5f59a9"/>
<rect x="133.25" y="230.08" width="10.14" height="1.28" fill="#b6b24c"/>
<rect x="143.34" y="230.08" width="10.14" height="1.28" fill="#b3af4f"/>
<rect x="153.43" y="230.08" width="10.14" height="1.28" fill="#d4ce2e"/>
<rect x="163.53" y="230.08" width="10.14" height="1.28" fill="#94916e"/>
<rect x="173.62" y="230.08" width="10.14" height="1.28" fill="#918e71"/>
<rect x="183.71" y="230.08" width="10.14" height="1.28" fill="#828080"/>
<rect x="72.70" y="231.31" width="10.14" height="1.28" fill="#6c6899"/>
<rect x="82.79" y="231.31" width="10.14" height="1.28" fill="#716e93"/>
<rect x="92.88" y="231.31" width="10.14" height="1.28" fill="#6f6b96"/>
<rect x="102.97" y="231.31" width="10.14" height="1.28" fill="#5c56ab"/>
<rect x="113.07" y="231.31" width="10.14" height="1.28" fill="#5e59a9"/>
<rect x="123.16" y="231.31" width="10.14" height="1.28" fill="#5b55ad"/>
<rect x="133.25" y="231.31" width="10.14" height="1.28" fill="#aca856"/>
<rect x="143.34" y="231.31" width="10.14" height="1.28" fill="#aca856"/>
<rect x="153.43" y="231.31" width="10.14" height="1.28" fill="#d4ce2e"/>
<rect x="163.53" y="231.31" width="10.14" height="1.28" fill="#807d83"/>
<rect x="173.62" y="231.31" width="10.14" height="1.28" fill="#7b7888"/>
<rect x="183.71" y="231.31" width="10.14" height="1.28" fill="#726e93"/>
<rect x="72.70" y="232.53" width="10.14" height="1.28" fill="#78758c"/>
<rect x="82.79" y="232.53" width="10.14" height="1.28" fill="#77748d"/>
<rect x="92.88" y="232.53" width="10.14" height="1.28" fill="#7b7889"/>
<rect x="102.97" y="232.53" width="10.14" height="1.28" fill="#625da4"/>
<rect x="113.07" y="232.53" width="10.14" height="1.28" fill="#5d57ab"/>
<rect x="123.16" y="232.53" width="10.14" height="1.28" fill="#605ba7"/>
<rect x="133.25" y="232.53" width="10.14" height="1.28" fill="#c4be3e"/>
<rect x="143.34" y="232.53" width="10.14" height="1.28" fill="#ada955"/>
<rect x="153.43" y="232.53" width="10.14" height="1.28" fill="#d4ce2e"/>
<rect x="163.53" y="232.53" width="10.14" height="1.28" fill="#747090"/>
<rect x="173.62" y="232.53" width="10.14" height="1.28" fill="#716d93"/>
<rect x="183.71" y="232.53" width="10.14" height="1.28" fill="#69649d"/>
<rect x="72.70" y="233.76" width="10.14" height="1.28" fill="#736f92"/>
<rect x="82.79" y="233.76" width="10.14" height="1.28" fill="#76728e"/>
<rect x="92.88" y="233.76" width="10.14" height="1.28" fill="#6a669b"/>
<rect x="102.97" y="233.76" width="10.14" height="1.28" fill="#5f59a9"/>
<rect x="113.07" y="233.76" width="10.14" height="1.28" fill="#5e58aa"/>
<rect x="123.16" y="233.76" width="10.14" height="1.28" fill="#5e58aa"/>
<rect x="133.25" y="233.76" width="10.14" height="1.28" fill="#bab548"/>
<rect x="143.34" y="233.76" width="10.14" height="1.28" fill="#b2ae50"/>
<rect x="153.43" y="233.76" width="10.14" height="1.28" fill="#d4ce2e"/>
<rect x="163.53" y="233.76" width="10.14" height="1.28" fill="#7b7888"/>
<rect x="173.62" y="233.76" width="10.14" height="1.28" fill="#78758b"/>
<rect x="183.71" y="233.76" width="10.14" height="1.28" fill="#76738e"/>
<rect x="72.70" y="234.98" width="10.14" height="1.28" fill="#6f6b96"/>
<rect x="82.79" y="234.98" width="10.14" height="1.28" fill="#726e92"/>
<rect x="92.88" y="234.98" width="10.14" height="1.28" fill="#6d6899"/>
<rect x="102.97" y="234.98" width="10.14" height="1.28" fill="#5d57ab"/>
<rect x="113.07" y="234.98" width="10.14" height="1.28" fill="#5e58aa"/>
<rect x="123.16" y="234.98" width="10.14" height="1.28" fill="#5a54ae"/>
<rect x="133.25" y="234.98" width="10.14" height="1.28" fill="#aca856"/>
<rect x="143.34" y="234.98" width="10.14" height="1.28" fill="#aba757"/>
<rect x="153.43" y="234.98" width="10.14" height="1.28" fill="#cac538"/>
<rect x="163.53" y="234.98" width="10.14" height="1.28" fill="#78758b"/>
<rect x="173.62" y="234.98" width="10.14" height="1.28" fill="#747190"/>
<rect x="183.71" y="234.98" width="10.14" height="1.28" fill="#6a659c"/>
<rect x="72.70" y="236.21" width="10.14" height="1.28" fill="#6c6899"/>
<rect x="82.79" y="236.21" width="10.14" height="1.28" fill="#6e6a97"/>
<rect x="92.88" y="236.21" width="10.14" height="1.28" fill="#6c6899"/>
<rect x="102.97" y="236.21" width="10.14" height="1.28" fill="#5e58a9"/>
<rect x="113.07" y="236.21" width="10.14" height="1.28" fill="#605aa8"/>
<rect x="123.16" y="236.21" width="10.14" height="1.28" fill="#5f59a9"/>
<rect x="133.25" y="236.21" width="10.14" height="1.28" fill="#b4b04e"/>
<rect x="143.34" y="236.21" width="10.14" height="1.28" fill="#a8a45a"/>
<rect x="153.43" y="236.21" width="10.14" height="1.28" fill="#d4ce2e"/>
<rect x="163.53" y="236.21" width="10.14" height="1.28" fill="#7d7b86"/>
<rect x="173.62" y="236.21" width="10.14" height="1.28" fill="#78758b"/>
<rect x="183.71" y="236.21" width="10.14" height="1.28" fill="#75728f"/>
<rect x="72.70" y="237.44" width="10.14" height="1.28" fill="#726f92"/>
<rect x="82.79" y="237.44" width="10.14" height="1.28" fill="#6e6a97"/>
<rect x="92.88" y="237.44" width="10.14" height="1.28" fill="#6f6b96"/>
<rect x="102.97" y="237.44" width="10.14" height="1.28" fill="#605aa8"/>
<rect x="113.07" y="237.44" width="10.14" height="1.28" fill="#625ca5"/>
<rect x="123.16" y="237.44" width="10.14" height="1.28" fill="#5b55ad"/>
<rect x="133.25" y="237.44" width="10.14" height="1.28" fill="#b5b04d"/>
<rect x="143.34" y="237.44" width="10.14" height="1.28" fill="#b3ae4f"/>
<rect x="153.43" y="237.44" width="10.14" height="1.28" fill="#d4ce2e"/>
<rect x="163.53" y="237.44" width="10.14" height="1.28" fill="#817f81"/>
<rect x="173.62" y="237.44" width="10.14" height="1.28" fill="#77748d"/>
<rect x="183.71" y="237.44" width="10.14" height="1.28" fill="#747091"/>
<rect x="72.70" y="238.66" width="10.14" height="1.28" fill="#747090"/>
<rect x="82.79" y="238.66" width="10.14" height="1.28" fill="#737091"/>
<rect x="92.88" y="238.66" width="10.14" height="1.28" fill="#76738e"/>
<rect x="102.97" y="238.66" width="10.14" height="1.28" fill="#605aa8"/>
<rect x="113.07" y="238.66" width="10.14" height="1.28" fill="#625da5"/>
<rect x="123.16" y="238.66" width="10.14" height="1.28" fill="#6661a0"/>
<rect x="133.25" y="238.66" width="10.14" height="1.28" fill="#b8b34a"/>
<rect x="143.34" y="238.66" width="10.14" height="1.28" fill="#b1ad51"/>
<rect x="153.43" y="238.66" width="10.14" height="1.28" fill="#d4ce2e"/>
<rect x="163.53" y="238.66" width="10.14" height="1.28" fill="#7b7988"/>
<rect x="173.62" y="238.66" width="10.14" height="1.28" fill="#75718f"/>
<rect x="183.71" y="238.66" width="10.14" height="1.28" fill="#726e93"/>
<rect x="72.70" y="239.89" width="10.14" height="1.28" fill="#76738e"/>
<rect x="82.79" y="239.89" width="10.14" height="1.28" fill="#75728f"/>
<rect x="92.88" y="239.89" width="10.14" height="1.28" fill="#726e92"/>
<rect x="102.97" y="239.89" width="10.14" height="1.28" fill="#605ba7"/>
<rect x="113.07" y="239.89" width="10.14" height="1.28" fill="#645fa3"/>
<rect x="123.16" y="239.89" width="10.14" height="1.28" fill="#605aa8"/>
<rect x="133.25" y="239.89" width="10.14" height="1.28" fill="#aeaa54"/>
<rect x="143.34" y="239.89" width="10.14" height="1.28" fill="#9f9c63"/>
<rect x="153.43" y="239.89" width="10.14" height="1.28" fill="#c7c23b"/>
<rect x="163.53" y="239.89" width="10.14" height="1.28" fill="#8e8c74"/>
<rect x="173.62" y="239.89" width="10.14" height="1.28" fill="#8a8778"/>
<rect x="183.71" y="239.89" width="10.14" height="1.28" fill="#7c7987"/>
<rect x="72.70" y="241.11" width="10.14" height="1.28" fill="#6f6b96"/>
<rect x="82.79" y="241.11" width="10.14" height="1.28" fill="#726e93"/>
<rect x="92.88" y="241.11" width="10.14" height="1.28" fill="#69649d"/>
<rect x="102.97" y="241.11" width="10.14" height="1.28" fill="#6661a0"/>
<rect x="113.07" y="241.11" width="10.14" height="1.28" fill="#615ca6"/>
<rect x="123.16" y="241.11" width="10.14" height="1.28" fill="#635ea4"/>
<rect x="133.25" y="241.11" width="10.14" height="1.28" fill="#afaa53"/>
<rect x="143.34" y="241.11" width="10.14" height="1.28" fill="#aaa658"/>
<rect x="153.43" y="241.11" width="10.14" height="1.28" fill="#c9c339"/>
<rect x="163.53" y="241.11" width="10.14" height="1.28" fill="#84827e"/>
<rect x="173.62" y="241.11" width="10.14" height="1.28" fill="#7e7b85"/>
<rect x="183.71" y="241.11" width="10.14" height="1.28" fill="#706c95"/>
<rect x="72.70" y="242.34" width="10.14" height="1.11" fill="#5b55ad"/>
<rect x="82.79" y="242.34" width="10.14" height="1.11" fill="#5a54ae"/>
<rect x="92.88" y="242.34" width="10.14" height="1.11" fill="#5b55ad"/>
<rect x="102.97" y="242.34" width="10.14" height="1.11" fill="#6a659c"/>
<rect x="113.07" y="242.34" width="10.14" height="1.11" fill="#716d94"/>
<rect x="123.16" y="242.34" width="10.14" height="1.11" fill="#69649d"/>
<rect x="133.25" y="242.34" width="10.14" height="1.11" fill="#747190"/>
<rect x="143.34" y="242.34" width="10.14" height="1.11" fill="#7a778a"/>
<rect x="153.43" y="242.34" width="10.14" height="1.11" fill="#76738e"/>
<rect x="163.53" y="242.34" width="10.14" height="1.11" fill="#cdc835"/>
<rect x="173.62" y="242.34" width="10.14" height="1.11" fill="#c9c439"/>
<rect x="183.71" y="242.34" width="10.14" height="1.11" fill="#d0ca32"/>
<rect x="72.70" y="243.40" width="10.14" height="1.11" fill="#5d57ab"/>
<rect x="82.79" y="243.40" width="10.14" height="1.11" fill="#5c56ab"/>
<rect x="92.88" y="243.40" width="10.14" height="1.11" fill="#5c56ac"/>
<rect x="102.97" y="243.40" width="10.14" height="1.11" fill="#7e7b85"/>
<rect x="113.07" y="243.40" width="10.14" height="1.11" fill="#85837d"/>
<rect x="123.16" y="243.40" width="10.14" height="1.11" fill="#807e82"/>
<rect x="133.25" y="243.40" width="10.14" height="1.11" fill="#747190"/>
<rect x="143.34" y="243.40" width="10.14" height="1.11" fill="#7d7a86"/>
<rect x="153.43" y="243.40" width="10.14" height="1.11" fill="#706c94"/>
<rect x="163.53" y="243.40" width="10.14" height="1.11" fill="#d3cd2f"/>
<rect x="173.62" y="243.40" width="10.14" height="1.11" fill="#d4ce2e"/>
<rect x="183.71" y="243.40" width="10.14" height="1.11" fill="#c7c23b"/>
<rect x="72.70" y="244.45" width="10.14" height="1.11" fill="#5d57aa"/>
<rect x="82.79" y="244.45" width="10.14" height="1.11" fill="#5e59a9"/>
<rect x="92.88" y="244.45" width="10.14" height="1.11" fill="#5e58aa"/>
<rect x="102.97" y="244.45" width="10.14" height="1.11" fill="#79768a"/>
<rect x="113.07" y="244.45" width="10.14" height="1.11" fill="#75728f"/>
<rect x="123.16" y="244.45" width="10.14" height="1.11" fill="#747190"/>
<rect x="133.25" y="244.45" width="10.14" height="1.11" fill="#6f6b96"/>
<rect x="143.34" y="244.45" width="10.14" height="1.11" fill="#706c95"/>
<rect x="153.43" y="244.45" width="10.14" height="1.11" fill="#6c689a"/>
<rect x="163.53" y="244.45" width="10.14" height="1.11" fill="#d4ce2e"/>
<rect x="173.62" y="244.45" width="10.14" height="1.11" fill="#d4ce2e"/>
<rect x="183.71" y="244.45" width="10.14" height="1.11" fill="#d4ce2e"/>
<rect x="72.70" y="245.51" width="10.14" height="1.28" fill="#afab53"/>
<rect x="82.79" y="245.51" width="10.14" height="1.28" fill="#b7b34b"/>
<rect x="92.88" y="245.51" width="10.14" height="1.28" fill="#bab648"/>
<rect x="102.97" y="245.51" width="10.14" height="1.28" fill="#a7a35b"/>
<rect x="113.07" y="245.51" width="10.14" height="1.28" fill="#aaa658"/>
<rect x="123.16" y="245.51" width="10.14" height="1.28" fill="#aba757"/>
<rect x="133.25" y="245.51" width="10.14" height="1.28" fill="#5f59a9"/>
<rect x="143.34" y="245.51" width="10.14" height="1.28" fill="#625ca5"/>
<rect x="153.43" y="245.51" width="10.14" height="1.28" fill="#645fa2"/>
<rect x="163.53" y="245.51" width="10.14" height="1.28" fill="#6c689a"/>
<rect x="173.62" y="245.51" width="10.14" height="1.28" fill="#747090"/>
<rect x="183.71" y="245.51" width="10.14" height="1.28" fill="#6d6998"/>
<rect x="72.70" y="246.74" width="10.14" height="1.28" fill="#c1bc41"/>
<rect x="82.79" y="246.74" width="10.14" height="1.28" fill="#c1bc41"/>
<rect x="92.88" y="246.74" width="10.14" height="1.28" fill="#b6b14c"/>
<rect x="102.97" y="246.74" width="10.14" height="1.28" fill="#b3af4f"/>
<rect x="113.07" y="246.74" width="10.14" height="1.28" fill="#b0ac52"/>
<rect x="123.16" y="246.74" width="10.14" height="1.28" fill="#9c9866"/>
<rect x="133.25" y="246.74" width="10.14" height="1.28" fill="#635ea4"/>
<rect x="143.34" y="246.74" width="10.14" height="1.28" fill="#615ca6"/>
<rect x="153.43" y="246.74" width="10.14" height="1.28" fill="#625da4"/>
<rect x="163.53" y="246.74" width="10.14" height="1.28" fill="#6b679a"/>
<rect x="173.62" y="246.74" width="10.14" height="1.28" fill="#6c679a"/>
<rect x="183.71" y="246.74" width="10.14" height="1.28" fill="#69659c"/>
<rect x="72.70" y="247.97" width="10.14" height="1.28" fill="#b9b449"/>
<rect x="82.79" y="247.97" width="10.14" height="1.28" fill="#c2bd40"/>
<rect x="92.88" y="247.97" width="10.14" height="1.28" fill="#cbc537"/>
<rect x="102.97" y="247.97" width="10.14" height="1.28" fill="#a39f5f"/>
<rect x="113.07" y="247.97" width="10.14" height="1.28" fill="#a29e60"/>
<rect x="123.16" y="247.97" width="10.14" height="1.28" fill="#aaa658"/>
<rect x="133.25" y="247.97" width="10.14" height="1.28" fill="#5b55ad"/>
<rect x="143.34" y="247.97" width="10.14" height="1.28" fill="#5b55ad"/>
<rect x="153.43" y="247.97" width="10.14" height="1.28" fill="#5d58aa"/>
<rect x="163.53" y="247.97" width="10.14" height="1.28" fill="#68639e"/>
<rect x="173.62" y="247.97" width="10.14" height="1.28" fill="#69659c"/>
<rect x="183.71" y="247.97" width="10.14" height="1.28" fill="#635ea4"/>
<rect x="72.70" y="249.21" width="10.14" height="1.28" fill="#afab53"/>
<rect x="82.79" y="249.21" width="10.14" height="1.28" fill="#b5b14d"/>
<rect x="92.88" y="249.21" width="10.14" height="1.28" fill="#b2ad50"/>
<rect x="102.97" y="249.21" width="10.14" height="1.28" fill="#a9a559"/>
<rect x="113.07" y="249.21" width="10.14" height="1.28" fill="#a8a45a"/>
<rect x="123.16" y="249.21" width="10.14" height="1.28" fill="#aca856"/>
<rect x="133.25" y="249.21" width="10.14" height="1.28" fill="#5e59a9"/>
<rect x="143.34" y="249.21" width="10.14" height="1.28" fill="#5b55ad"/>
<rect x="153.43" y="249.21" width="10.14" height="1.28" fill="#5d57ab"/>
<rect x="163.53" y="249.21" width="10.14" height="1.28" fill="#6b669b"/>
<rect x="173.62" y="249.21" width="10.14" height="1.28" fill="#737091"/>
<rect x="183.71" y="249.21" width="10.14" height="1.28" fill="#6f6b96"/>
<rect x="72.70" y="250.44" width="10.14" height="1.28" fill="#b7b34b"/>
<rect x="82.79" y="250.44" width="10.14" height="1.28" fill="#c1bc41"/>
<rect x="92.88" y="250.44" width="10.14" height="1.28" fill="#bcb746"/>
<rect x="102.97" y="250.44" width="10.14" height="1.28" fill="#a5a15d"/>
<rect x="113.07" y="250.44" width="10.14" height="1.28" fill="#9c9866"/>
<rect x="123.16" y="250.44" width="10.14" height="1.28" fill="#928f70"/>
<rect x="133.25" y="250.44" width="10.14" height="1.28" fill="#5f59a8"/>
<rect x="143.34" y="250.44" width="10.14" height="1.28" fill="#5f5aa8"/>
<rect x="153.43" y="250.44" width="10.14" height="1.28" fill="#5e58aa"/>
<rect x="163.53" y="250.44" width="10.14" height="1.28" fill="#726e93"/>
<rect x="173.62" y="250.44" width="10.14" height="1.28" fill="#747190"/>
<rect x="183.71" y="250.44" width="10.14" height="1.28" fill="#6d6998"/>
<rect x="72.70" y="251.67" width="10.14" height="1.28" fill="#bab548"/>
<rect x="82.79" y="251.67" width="10.14" height="1.28" fill="#b4af4e"/>
<rect x="92.88" y="251.67" width="10.14" height="1.28" fill="#b6b24c"/>
<rect x="102.97" y="251.67" width="10.14" height="1.28" fill="#918e71"/>
<rect x="113.07" y="251.67" width="10.14" height="1.28" fill="#97946b"/>
<rect x="123.16" y="251.67" width="10.14" height="1.28" fill="#9b9867"/>
<rect x="133.25" y="251.67" width="10.14" height="1.28" fill="#5c56ac"/>
<rect x="143.34" y="251.67" width="10.14" height="1.28" fill="#625da5"/>
<rect x="153.43" y="251.67" width="10.14" height="1.28" fill="#5c56ac"/>
<rect x="163.53" y="251.67" width="10.14" height="1.28" fill="#6e6a97"/>
<rect x="173.62" y="251.67" width="10.14" height="1.28" fill="#747190"/>
<rect x="183.71" y="251.67" width="10.14" height="1.28" fill="#716d94"/>
<rect x="72.70" y="252.90" width="10.14" height="1.28" fill="#a5a15d"/>
<rect x="82.79" y="252.90" width="10.14" height="1.28" fill="#b1ad51"/>
<rect x="92.88" y="252.90" width="10.14" height="1.28" fill="#a29f60"/>
<rect x="102.97" y="252.90" width="10.14" height="1.28" fill="#908e72"/>
<rect x="113.07" y="252.90" width="10.14" height="1.28" fill="#95926d"/>
<rect x="123.16" y="252.90" width="10.14" height="1.28" fill="#8d8a75"/>
<rect x="133.25" y="252.90" width="10.14" height="1.28" fill="#645fa2"/>
<rect x="143.34" y="252.90" width="10.14" height="1.28" fill="#5e59a9"/>
<rect x="153.43" y="252.90" width="10.14" height="1.28" fill="#605ba7"/>
<rect x="163.53" y="252.90" width="10.14" height="1.28" fill="#68649e"/>
<rect x="173.62" y="252.90" width="10.14" height="1.28" fill="#7b7888"/>
<rect x="183.71" y="252.90" width="10.14" height="1.28" fill="#716e93"/>
<rect x="72.70" y="254.13" width="10.14" height="1.27" fill="#bfba43"/>
<rect x="82.79" y="254.13" width="10.14" height="1.27" fill="#bdb845"/>
<rect x="92.88" y="254.13" width="10.14" height="1.27" fill="#beb944"/>
<rect x="102.97" y="254.13" width="10.14" height="1.27" fill="#6662a0"/>
<rect x="113.07" y="254.13" width="10.14" height="1.27" fill="#6560a1"/>
<rect x="123.16" y="254.13" width="10.14" height="1.27" fill="#6560a1"/>
<rect x="133.25" y="254.13" width="10.14" height="1.27" fill="#95926d"/>
<rect x="143.34" y="254.13" width="10.14" height="1.27" fill="#94916e"/>
<rect x="153.43" y="254.13" width="10.14" height="1.27" fill="#a6a25c"/>
<rect x="163.53" y="254.13" width="10.14" height="1.27" fill="#5e58a9"/>
<rect x="173.62" y="254.13" width="10.14" height="1.27" fill="#736f92"/>
<rect x="183.71" y="254.13" width="10.14" height="1.27" fill="#76738e"/>
<rect x="72.70" y="255.35" width="10.14" height="1.27" fill="#b1ac51"/>
<rect x="82.79" y="255.35" width="10.14" height="1.27" fill="#aca856"/>
<rect x="92.88" y="255.35" width="10.14" height="1.27" fill="#a09d62"/>
<rect x="102.97" y="255.35" width="10.14" height="1.27" fill="#6662a0"/>
<rect x="113.07" y="255.35" width="10.14" height="1.27" fill="#645fa3"/>
<rect x="123.16" y="255.35" width="10.14" height="1.27" fill="#6560a2"/>
<rect x="133.25" y="255.35" width="10.14" height="1.27" fill="#9d9a65"/>
<rect x="143.34" y="255.35" width="10.14" height="1.27" fill="#93906f"/>
<rect x="153.43" y="255.35" width="10.14" height="1.27" fill="#9f9b63"/>
<rect x="163.53" y="255.35" width="10.14" height="1.27" fill="#5e59a9"/>
<rect x="173.62" y="255.35" width="10.14" height="1.27" fill="#6d6998"/>
<rect x="183.71" y="255.35" width="10.14" height="1.27" fill="#726e93"/>
<rect x="72.70" y="256.56" width="10.14" height="1.27" fill="#bbb647"/>
<rect x="82.79" y="256.56" width="10.14" height="1.27" fill="#aeaa54"/>
<rect x="92.88" y="256.56" width="10.14" height="1.27" fill="#b9b449"/>
<rect x="102.97" y="256.56" width="10.14" height="1.27" fill="#615ba6"/>
<rect x="113.07" y="256.56" width="10.14" height="1.27" fill="#625da5"/>
<rect x="123.16" y="256.56" width="10.14" height="1.27" fill="#5e59a9"/>
<rect x="133.25" y="256.56" width="10.14" height="1.27" fill="#9e9a64"/>
<rect x="143.34" y="256.56" width="10.14" height="1.27" fill="#a09c62"/>
<rect x="153.43" y="256.56" width="10.14" height="1.27" fill="#a9a559"/>
<rect x="163.53" y="256.56" width="10.14" height="1.27" fill="#5f5aa8"/>
<rect x="173.62" y="256.56" width="10.14" height="1.27" fill="#75728f"/>
<rect x="183.71" y="256.56" width="10.14" height="1.27" fill="#76738e"/>
<rect x="72.70" y="257.78" width="10.14" height="1.27" fill="#c6c13c"/>
<rect x="82.79" y="257.78" width="10.14" height="1.27" fill="#ccc736"/>
<rect x="92.88" y="257.78" width="10.14" height="1.27" fill="#d4ce2e"/>
<rect x="102.97" y="257.78" width="10.14" height="1.27" fill="#5c56ac"/>
<rect x="113.07" y="257.78" width="10.14" height="1.27" fill="#5c56ac"/>
<rect x="123.16" y="257.78" width="10.14" height="1.27" fill="#5e58a9"/>
<rect x="133.25" y="257.78" width="10.14" height="1.27" fill="#929070"/>
<rect x="143.34" y="257.78" width="10.14" height="1.27" fill="#94916e"/>
<rect x="153.43" y="257.78" width="10.14" height="1.27" fill="#a9a559"/>
<rect x="163.53" y="257.78" width="10.14" height="1.27" fill="#5e59a9"/>
<rect x="173.62" y="257.78" width="10.14" height="1.27" fill="#737091"/>
<rect x="183.71" y="257.78" width="10.14" height="1.27" fill="#736f91"/>
<rect x="72.70" y="259.00" width="10.14" height="1.27" fill="#beb944"/>
<rect x="82.79" y="259.00" width="10.14" height="1.27" fill="#c5c03d"/>
<rect x="92.88" y="259.00" width="10.14" height="1.27" fill="#c1bb41"/>
<rect x="102.97" y="259.00" width="10.14" height="1.27" fill="#5a54ae"/>
<rect x="113.07" y="259.00" width="10.14" height="1.27" fill="#5c56ac"/>
<rect x="123.16" y="259.00" width="10.14" height="1.27" fill="#5e58aa"/>
<rect x="133.25" y="259.00" width="10.14" height="1.27" fill="#8f8c73"/>
<rect x="143.34" y="259.00" width="10.14" height="1.27" fill="#898679"/>
<rect x="153.43" y="259.00" width="10.14" height="1.27" fill="#a29f60"/>
<rect x="163.53" y="259.00" width="10.14" height="1.27" fill="#5e58a9"/>
<rect x="173.62" y="259.00" width="10.14" height="1.27" fill="#6b679a"/>
<rect x="183.71" y="259.00" width="10.14" height="1.27" fill="#7c7a86"/>
<rect x="72.70" y="260.21" width="10.14" height="1.27" fill="#d4ce2e"/>
<rect x="82.79" y="260.21" width="10.14" height="1.27" fill="#d4ce2e"/>
<rect x="92.88" y="260.21" width="10.14" height="1.27" fill="#cfc933"/>
<rect x="102.97" y="260.21" width="10.14" height="1.27" fill="#5a54ae"/>
<rect x="113.07" y="260.21" width="10.14" height="1.27" fill="#5a54ae"/>
<rect x="123.16" y="260.21" width="10.14" height="1.27" fill="#5c56ac"/>
<rect x="133.25" y="260.21" width="10.14" height="1.27" fill="#8f8d73"/>
<rect x="143.34" y="260.21" width="10.14" height="1.27" fill="#88857a"/>
<rect x="153.43" y="260.21" width="10.14" height="1.27" fill="#a29f60"/>
<rect x="163.53" y="260.21" width="10.14" height="1.27" fill="#5c57ab"/>
<rect x="173.62" y="260.21" width="10.14" height="1.27" fill="#747091"/>
<rect x="183.71" y="260.21" width="10.14" height="1.27" fill="#79768a"/>
<rect x="72.70" y="261.43" width="10.14" height="1.27" fill="#bcb746"/>
<rect x="82.79" y="261.43" width="10.14" height="1.27" fill="#b8b44a"/>
<rect x="92.88" y="261.43" width="10.14" height="1.27" fill="#bdb845"/>
<rect x="102.97" y="261.43" width="10.14" height="1.27" fill="#5f59a9"/>
<rect x="113.07" y="261.43" width="10.14" height="1.27" fill="#5f5aa8"/>
<rect x="123.16" y="261.43" width="10.14" height="1.27" fill="#605ba7"/>
<rect x="133.25" y="261.43" width="10.14" height="1.27" fill="#88857a"/>
<rect x="143.34" y="261.43" width="10.14" height="1.27" fill="#828080"/>
<rect x="153.43" y="261.43" width="10.14" height="1.27" fill="#898779"/>
<rect x="163.53" y="261.43" width="10.14" height="1.27" fill="#625ca5"/>
<rect x="173.62" y="261.43" width="10.14" height="1.27" fill="#6e6a97"/>
<rect x="183.71" y="261.43" width="10.14" height="1.27" fill="#76728e"/>
<rect x="72.70" y="262.65" width="10.14" height="1.27" fill="#b2ae50"/>
<rect x="82.79" y="262.65" width="10.14" height="1.27" fill="#bfba43"/>
<rect x="92.88" y="262.65" width="10.14" height="1.27" fill="#c5bf3d"/>
<rect x="102.97" y="262.65" width="10.14" height="1.27" fill="#5a54ae"/>
<rect x="113.07" y="262.65" width="10.14" height="1.27" fill="#5d57ab"/>
<rect x="123.16" y="262.65" width="10.14" height="1.27" fill="#5c56ac"/>
<rect x="133.25" y="262.65" width="10.14" height="1.27" fill="#9f9b63"/>
<rect x="143.34" y="262.65" width="10.14" height="1.27" fill="#96936c"/>
<rect x="153.43" y="262.65" width="10.14" height="1.27" fill="#b0ac52"/>
<rect x="163.53" y="262.65" width="10.14" height="1.27" fill="#5e59a9"/>
<rect x="173.62" y="262.65" width="10.14" height="1.27" fill="#747190"/>
<rect x="183.71" y="262.65" width="10.14" height="1.27" fill="#77738d"/>
<rect x="72.70" y="263.87" width="10.14" height="1.27" fill="#c2bd40"/>
<rect x="82.79" y="263.87" width="10.14" height="1.27" fill="#bfba43"/>
<rect x="92.88" y="263.87" width="10.14" height="1.27" fill="#b9b449"/>
<rect x="102.97" y="263.87" width="10.14" height="1.27" fill="#5b55ad"/>
<rect x="113.07" y="263.87" width="10.14" height="1.27" fill="#5d57aa"/>
<rect x="123.16" y="263.87" width="10.14" height="1.27" fill="#5f59a9"/>
<rect x="133.25" y="263.87" width="10.14" height="1.27" fill="#98956a"/>
<rect x="143.34" y="263.87" width="10.14" height="1.27" fill="#908e72"/>
<rect x="153.43" y="263.87" width="10.14" height="1.27" fill="#a19e61"/>
<rect x="163.53" y="263.87" width="10.14" height="1.27" fill="#6762a0"/>
<rect x="173.62" y="263.87" width="10.14" height="1.27" fill="#7b7889"/>
<rect x="183.71" y="263.87" width="10.14" height="1.27" fill="#807e82"/>
<rect x="72.70" y="265.08" width="10.14" height="1.27" fill="#c0bb42"/>
<rect x="82.79" y="265.08" width="10.14" height="1.27" fill="#c5c03d"/>
<rect x="92.88" y="265.08" width="10.14" height="1.27" fill="#c4be3e"/>
<rect x="102.97" y="265.08" width="10.14" height="1.27" fill="#5d57ab"/>
<rect x="113.07" y="265.08" width="10.14" height="1.27" fill="#605ba7"/>
<rect x="123.16" y="265.08" width="10.14" height="1.27" fill="#605aa8"/>
<rect x="133.25" y="265.08" width="10.14" height="1.27" fill="#8d8b75"/>
<rect x="143.34" y="265.08" width="10.14" height="1.27" fill="#908d72"/>
<rect x="153.43" y="265.08" width="10.14" height="1.27" fill="#9e9b64"/>
<rect x="163.53" y="265.08" width="10.14" height="1.27" fill="#5d57ab"/>
<rect x="173.62" y="265.08" width="10.14" height="1.27" fill="#716d93"/>
<rect x="183.71" y="265.08" width="10.14" height="1.27" fill="#79768b"/>
<rect x="72.70" y="266.30" width="10.14" height="1.27" fill="#aca856"/>
<rect x="82.79" y="266.30" width="10.14" height="1.27" fill="#b7b24b"/>
<rect x="92.88" y="266.30" width="10.14" height="1.27" fill="#aba757"/>
<rect x="102.97" y="266.30" width="10.14" height="1.27" fill="#625da5"/>
<rect x="113.07" y="266.30" width="10.14" height="1.27" fill="#6560a2"/>
<rect x="123.16" y="266.30" width="10.14" height="1.27" fill="#5b55ad"/>
<rect x="133.25" y="266.30" width="10.14" height="1.27" fill="#8a8778"/>
<rect x="143.34" y="266.30" width="10.14" height="1.27" fill="#87857b"/>
<rect x="153.43" y="266.30" width="10.14" height="1.27" fill="#98956a"/>
<rect x="163.53" y="266.30" width="10.14" height="1.27" fill="#645fa2"/>
<rect x="173.62" y="266.30" width="10.14" height="1.27" fill="#898779"/>
<rect x="183.71" y="266.30" width="10.14" height="1.27" fill="#898679"/>
<rect x="72.70" y="267.52" width="10.14" height="1.27" fill="#a19d61"/>
<rect x="82.79" y="267.52" width="10.14" height="1.27" fill="#a5a25d"/>
<rect x="92.88" y="267.52" width="10.14" height="1.27" fill="#aca856"/>
<rect x="102.97" y="267.52" width="10.14" height="1.27" fill="#625ca5"/>
<rect x="113.07" y="267.52" width="10.14" height="1.27" fill="#5f59a9"/>
<rect x="123.16" y="267.52" width="10.14" height="1.27" fill="#5e58a9"/>
<rect x="133.25" y="267.52" width="10.14" height="1.27" fill="#8a8878"/>
<rect x="143.34" y="267.52" width="10.14" height="1.27" fill="#817e82"/>
<rect x="153.43" y="267.52" width="10.14" height="1.27" fill="#8a8878"/>
<rect x="163.53" y="267.52" width="10.14" height="1.27" fill="#645fa3"/>
<rect x="173.62" y="267.52" width="10.14" height="1.27" fill="#7a7789"/>
<rect x="183.71" y="267.52" width="10.14" height="1.27" fill="#807e82"/>
<rect x="72.70" y="268.73" width="10.14" height="1.27" fill="#a39f5f"/>
<rect x="82.79" y="268.73" width="10.14" height="1.27" fill="#8e8c74"/>
<rect x="92.88" y="268.73" width="10.14" height="1.27" fill="#9e9b64"/>
<rect x="102.97" y="268.73" width="10.14" height="1.27" fill="#5f5aa8"/>
<rect x="113.07" y="268.73" width="10.14" height="1.27" fill="#635ea3"/>
<rect x="123.16" y="268.73" width="10.14" height="1.27" fill="#5c56ab"/>
<rect x="133.25" y="268.73" width="10.14" height="1.27" fill="#9f9b63"/>
<rect x="143.34" y="268.73" width="10.14" height="1.27" fill="#999669"/>
<rect x="153.43" y="268.73" width="10.14" height="1.27" fill="#b3ae4f"/>
<rect x="163.53" y="268.73" width="10.14" height="1.27" fill="#605ba7"/>
<rect x="173.62" y="268.73" width="10.14" height="1.27" fill="#7a778a"/>
<rect x="183.71" y="268.73" width="10.14" height="1.27" fill="#7a7789"/>
<rect x="72.70" y="269.95" width="10.14" height="1.27" fill="#b1ac51"/>
<rect x="82.79" y="269.95" width="10.14" height="1.27" fill="#c1bc41"/>
<rect x="92.88" y="269.95" width="10.14" height="1.27" fill="#bcb746"/>
<rect x="102.97" y="269.95" width="10.14" height="1.27" fill="#5c57ab"/>
<rect x="113.07" y="269.95" width="10.14" height="1.27" fill="#5e58a9"/>
<rect x="123.16" y="269.95" width="10.14" height="1.27" fill="#605aa8"/>
<rect x="133.25" y="269.95" width="10.14" height="1.27" fill="#929070"/>
<rect x="143.34" y="269.95" width="10.14" height="1.27" fill="#8f8d73"/>
<rect x="153.43" y="269.95" width="10.14" height="1.27" fill="#a8a45a"/>
<rect x="163.53" y="269.95" width="10.14" height="1.27" fill="#5e59a9"/>
<rect x="173.62" y="269.95" width="10.14" height="1.27" fill="#6d6998"/>
<rect x="183.71" y="269.95" width="10.14" height="1.27" fill="#6e6a97"/>
<rect x="72.70" y="271.17" width="10.14" height="1.27" fill="#c7c23b"/>
<rect x="82.79" y="271.17" width="10.14" height="1.27" fill="#c3be3f"/>
<rect x="92.88" y="271.17" width="10.14" height="1.27" fill="#bfba43"/>
<rect x="102.97" y="271.17" width="10.14" height="1.27" fill="#5e59a9"/>
<rect x="113.07" y="271.17" width="10.14" height="1.27" fill="#5f59a9"/>
<rect x="123.16" y="271.17" width="10.14" height="1.27" fill="#5f59a9"/>
<rect x="133.25" y="271.17" width="10.14" height="1.27" fill="#908d72"/>
<rect x="143.34" y="271.17" width="10.14" height="1.27" fill="#929070"/>
<rect x="153.43" y="271.17" width="10.14" height="1.27" fill="#9b9867"/>
<rect x="163.53" y="271.17" width="10.14" height="1.27" fill="#605aa8"/>
<rect x="173.62" y="271.17" width="10.14" height="1.27" fill="#6d6998"/>
<rect x="183.71" y="271.17" width="10.14" height="1.27" fill="#77748c"/>
<rect x="72.70" y="272.39" width="10.14" height="1.27" fill="#c8c33a"/>
<rect x="82.79" y="272.39" width="10.14" height="1.27" fill="#bcb846"/>
<rect x="92.88" y="272.39" width="10.14" height="1.27" fill="#c3be3f"/>
<rect x="102.97" y="272.39" width="10.14" height="1.27" fill="#605aa7"/>
<rect x="113.07" y="272.39" width="10.14" height="1.27" fill="#5f59a9"/>
<rect x="123.16" y="272.39" width="10.14" height="1.27" fill="#605aa7"/>
<rect x="133.25" y="272.39" width="10.14" height="1.27" fill="#93906f"/>
<rect x="143.34" y="272.39" width="10.14" height="1.27" fill="#8b8877"/>
<rect x="153.43" y="272.39" width="10.14" height="1.27" fill="#a09d62"/>
<rect x="163.53" y="272.39" width="10.14" height="1.27" fill="#605ba7"/>
<rect x="173.62" y="272.39" width="10.14" height="1.27" fill="#716e93"/>
<rect x="183.71" y="272.39" width="10.14" height="1.27" fill="#78758b"/>
<rect x="72.70" y="273.60" width="10.14" height="1.27" fill="#b2ae50"/>
<rect x="82.79" y="273.60" width="10.14" height="1.27" fill="#b4b04e"/>
<rect x="92.88" y="273.60" width="10.14" height="1.27" fill="#aeaa54"/>
<rect x="102.97" y="273.60" width="10.14" height="1.27" fill="#5e58a9"/>
<rect x="113.07" y="273.60" width="10.14" height="1.27" fill="#5f5aa8"/>
<rect x="123.16" y="273.60" width="10.14" height="1.27" fill="#5e58aa"/>
<rect x="133.25" y="273.60" width="10.14" height="1.27" fill="#a19e61"/>
<rect x="143.34" y="273.60" width="10.14" height="1.27" fill="#7f7d83"/>
<rect x="153.43" y="273.60" width="10.14" height="1.27" fill="#9f9c63"/>
<rect x="163.53" y="273.60" width="10.14" height="1.27" fill="#5a54ae"/>
<rect x="173.62" y="273.60" width="10.14" height="1.27" fill="#6b679a"/>
<rect x="183.71" y="273.60" width="10.14" height="1.27" fill="#76738d"/>
<rect x="72.70" y="274.82" width="10.14" height="1.27" fill="#9e9b64"/>
<rect x="82.79" y="274.82" width="10.14" height="1.27" fill="#8d8a75"/>
<rect x="92.88" y="274.82" width="10.14" height="1.27" fill="#a09c62"/>
<rect x="102.97" y="274.82" width="10.14" height="1.27" fill="#605ba7"/>
<rect x="113.07" y="274.82" width="10.14" height="1.27" fill="#5f5aa8"/>
<rect x="123.16" y="274.82" width="10.14" height="1.27" fill="#5e59a9"/>
<rect x="133.25" y="274.82" width="10.14" height="1.27" fill="#a09d62"/>
<rect x="143.34" y="274.82" width="10.14" height="1.27" fill="#918f71"/>
<rect x="153.43" y="274.82" width="10.14" height="1.27" fill="#aaa658"/>
<rect x="163.53" y="274.82" width="10.14" height="1.27" fill="#5d57aa"/>
<rect x="173.62" y="274.82" width="10.14" height="1.27" fill="#6a659c"/>
<rect x="183.71" y="274.82" width="10.14" height="1.27" fill="#76738e"/>
<rect x="72.70" y="276.04" width="10.14" height="1.27" fill="#bdb945"/>
<rect x="82.79" y="276.04" width="10.14" height="1.27" fill="#bbb647"/>
<rect x="92.88" y="276.04" width="10.14" height="1.27" fill="#c1bc41"/>
<rect x="102.97" y="276.04" width="10.14" height="1.27" fill="#6560a1"/>
<rect x="113.07" y="276.04" width="10.14" height="1.27" fill="#5f5aa8"/>
<rect x="123.16" y="276.04" width="10.14" height="1.27" fill="#5d58aa"/>
<rect x="133.25" y="276.04" width="10.14" height="1.27" fill="#928f70"/>
<rect x="143.34" y="276.04" width="10.14" height="1.27" fill="#8e8b74"/>
<rect x="153.43" y="276.04" width="10.14" height="1.27" fill="#9e9b64"/>
<rect x="163.53" y="276.04" width="10.14" height="1.27" fill="#615ba6"/>
<rect x="173.62" y="276.04" width="10.14" height="1.27" fill="#706c95"/>
<rect x="183.71" y="276.04" width="10.14" height="1.27" fill="#76728e"/>
<rect x="72.70" y="277.25" width="10.14" height="1.26" fill="#6662a0"/>
<rect x="82.79" y="277.25" width="10.14" height="1.26" fill="#6560a1"/>
<rect x="92.88" y="277.25" width="10.14" height="1.26" fill="#605ba7"/>
<rect x="102.97" y="277.25" width="10.14" height="1.26" fill="#908d72"/>
<rect x="113.07" y="277.25" width="10.14" height="1.26" fill="#6e6a97"/>
<rect x="123.16" y="277.25" width="10.14" height="1.26" fill="#c5c03d"/>
<rect x="133.25" y="277.25" width="10.14" height="1.26" fill="#747090"/>
<rect x="143.34" y="277.25" width="10.14" height="1.26" fill="#5a54ae"/>
<rect x="153.43" y="277.25" width="10.14" height="1.26" fill="#5a54ae"/>
<rect x="163.53" y="277.25" width="10.14" height="1.26" fill="#c0bb42"/>
<rect x="173.62" y="277.25" width="10.14" height="1.26" fill="#6f6b96"/>
<rect x="183.71" y="277.25" width="10.14" height="1.26" fill="#9d9a65"/>
<rect x="72.70" y="278.47" width="10.14" height="1.26" fill="#5b55ad"/>
<rect x="82.79" y="278.47" width="10.14" height="1.26" fill="#5b55ad"/>
<rect x="92.88" y="278.47" width="10.14" height="1.26" fill="#5c57ab"/>
<rect x="102.97" y="278.47" width="10.14" height="1.26" fill="#96936c"/>
<rect x="113.07" y="278.47" width="10.14" height="1.26" fill="#706c95"/>
<rect x="123.16" y="278.47" width="10.14" height="1.26" fill="#d1cb31"/>
<rect x="133.25" y="278.47" width="10.14" height="1.26" fill="#7d7b85"/>
<rect x="143.34" y="278.47" width="10.14" height="1.26" fill="#605ba7"/>
<rect x="153.43" y="278.47" width="10.14" height="1.26" fill="#5e59a9"/>
<rect x="163.53" y="278.47" width="10.14" height="1.26" fill="#b7b34b"/>
<rect x="173.62" y="278.47" width="10.14" height="1.26" fill="#6c689a"/>
<rect x="183.71" y="278.47" width="10.14" height="1.26" fill="#9e9b64"/>
<rect x="72.70" y="279.68" width="10.14" height="1.26" fill="#625da5"/>
<rect x="82.79" y="279.68" width="10.14" height="1.26" fill="#605ba7"/>
<rect x="92.88" y="279.68" width="10.14" height="1.26" fill="#625da5"/>
<rect x="102.97" y="279.68" width="10.14" height="1.26" fill="#a8a45a"/>
<rect x="113.07" y="279.68" width="10.14" height="1.26" fill="#76728e"/>
<rect x="123.16" y="279.68" width="10.14" height="1.26" fill="#d4ce2e"/>
<rect x="133.25" y="279.68" width="10.14" height="1.26" fill="#78758c"/>
<rect x="143.34" y="279.68" width="10.14" height="1.26" fill="#5e58a9"/>
<rect x="153.43" y="279.68" width="10.14" height="1.26" fill="#5d57aa"/>
<rect x="163.53" y="279.68" width="10.14" height="1.26" fill="#bdb845"/>
<rect x="173.62" y="279.68" width="10.14" height="1.26" fill="#7a778a"/>
<rect x="183.71" y="279.68" width="10.14" height="1.26" fill="#b0ab52"/>
<rect x="72.70" y="280.90" width="10.14" height="1.26" fill="#615ca5"/>
<rect x="82.79" y="280.90" width="10.14" height="1.26" fill="#5d57ab"/>
<rect x="92.88" y="280.90" width="10.14" height="1.26" fill="#5e58aa"/>
<rect x="102.97" y="280.90" width="10.14" height="1.26" fill="#a8a45a"/>
<rect x="113.07" y="280.90" width="10.14" height="1.26" fill="#79778a"/>
<rect x="123.16" y="280.90" width="10.14" height="1.26" fill="#d4ce2e"/>
<rect x="133.25" y="280.90" width="10.14" height="1.26" fill="#7e7c85"/>
<rect x="143.34" y="280.90" width="10.14" height="1.26" fill="#625ca5"/>
<rect x="153.43" y="280.90" width="10.14" height="1.26" fill="#615ca6"/>
<rect x="163.53" y="280.90" width="10.14" height="1.26" fill="#c8c23a"/>
<rect x="173.62" y="280.90" width="10.14" height="1.26" fill="#7f7d83"/>
<rect x="183.71" y="280.90" width="10.14" height="1.26" fill="#aca856"/>
<rect x="72.70" y="282.11" width="10.14" height="1.26" fill="#5e58aa"/>
<rect x="82.79" y="282.11" width="10.14" height="1.26" fill="#605aa7"/>
<rect x="92.88" y="282.11" width="10.14" height="1.26" fill="#625da4"/>
<rect x="102.97" y="282.11" width="10.14" height="1.26" fill="#bbb747"/>
<rect x="113.07" y="282.11" width="10.14" height="1.26" fill="#828080"/>
<rect x="123.16" y="282.11" width="10.14" height="1.26" fill="#d4ce2e"/>
<rect x="133.25" y="282.11" width="10.14" height="1.26" fill="#828080"/>
<rect x="143.34" y="282.11" width="10.14" height="1.26" fill="#625da5"/>
<rect x="153.43" y="282.11" width="10.14" height="1.26" fill="#635ea3"/>
<rect x="163.53" y="282.11" width="10.14" height="1.26" fill="#cfca33"/>
<rect x="173.62" y="282.11" width="10.14" height="1.26" fill="#747091"/>
<rect x="183.71" y="282.11" width="10.14" height="1.26" fill="#aaa658"/>
<rect x="72.70" y="283.32" width="10.14" height="1.26" fill="#645fa3"/>
<rect x="82.79" y="283.32" width="10.14" height="1.26" fill="#615ca6"/>
<rect x="92.88" y="283.32" width="10.14" height="1.26" fill="#605ba7"/>
<rect x="102.97" y="283.32" width="10.14" height="1.26" fill="#8f8c73"/>
<rect x="113.07" y="283.32" width="10.14" height="1.26" fill="#75718f"/>
<rect x="123.16" y="283.32" width="10.14" height="1.26" fill="#cec834"/>
<rect x="133.25" y="283.32" width="10.14" height="1.26" fill="#78758b"/>
<rect x="143.34" y="283.32" width="10.14" height="1.26" fill="#5c56ac"/>
<rect x="153.43" y="283.32" width="10.14" height="1.26" fill="#5e58a9"/>
<rect x="163.53" y="283.32" width="10.14" height="1.26" fill="#c6c13c"/>
<rect x="173.62" y="283.32" width="10.14" height="1.26" fill="#7b7888"/>
<rect x="183.71" y="283.32" width="10.14" height="1.26" fill="#b3ae4f"/>
<rect x="72.70" y="284.54" width="10.14" height="1.26" fill="#5e58aa"/>
<rect x="82.79" y="284.54" width="10.14" height="1.26" fill="#5b56ac"/>
<rect x="92.88" y="284.54" width="10.14" height="1.26" fill="#5f59a9"/>
<rect x="102.97" y="284.54" width="10.14" height="1.26" fill="#9d9a65"/>
<rect x="113.07" y="284.54" width="10.14" height="1.26" fill="#716d94"/>
<rect x="123.16" y="284.54" width="10.14" height="1.26" fill="#d4ce2e"/>
<rect x="133.25" y="284.54" width="10.14" height="1.26" fill="#76738e"/>
<rect x="143.34" y="284.54" width="10.14" height="1.26" fill="#5a54ae"/>
<rect x="153.43" y="284.54" width="10.14" height="1.26" fill="#5c57ab"/>
<rect x="163.53" y="284.54" width="10.14" height="1.26" fill="#d4ce2e"/>
<rect x="173.62" y="284.54" width="10.14" height="1.26" fill="#807e82"/>
<rect x="183.71" y="284.54" width="10.14" height="1.26" fill="#b6b24c"/>
<rect x="72.70" y="285.75" width="10.14" height="1.26" fill="#5f5aa8"/>
<rect x="82.79" y="285.75" width="10.14" height="1.26" fill="#5b55ad"/>
<rect x="92.88" y="285.75" width="10.14" height="1.26" fill="#5f5aa8"/>
<rect x="102.97" y="285.75" width="10.14" height="1.26" fill="#98956a"/>
<rect x="113.07" y="285.75" width="10.14" height="1.26" fill="#737091"/>
<rect x="123.16" y="285.75" width="10.14" height="1.26" fill="#cfc933"/>
<rect x="133.25" y="285.75" width="10.14" height="1.26" fill="#7a7789"/>
<rect x="143.34" y="285.75" width="10.14" height="1.26" fill="#635ea3"/>
<rect x="153.43" y="285.75" width="10.14" height="1.26" fill="#5d57ab"/>
<rect x="163.53" y="285.75" width="10.14" height="1.26" fill="#c5c03d"/>
<rect x="173.62" y="285.75" width="10.14" height="1.26" fill="#76738e"/>
<rect x="183.71" y="285.75" width="10.14" height="1.26" fill="#a19d61"/>
<rect x="72.70" y="286.97" width="10.14" height="1.26" fill="#5a54ae"/>
<rect x="82.79" y="286.97" width="10.14" height="1.26" fill="#5b55ad"/>
<rect x="92.88" y="286.97" width="10.14" height="1.26" fill="#5a54ae"/>
<rect x="102.97" y="286.97" width="10.14" height="1.26" fill="#a19d61"/>
<rect x="113.07" y="286.97" width="10.14" height="1.26" fill="#75728f"/>
<rect x="123.16" y="286.97" width="10.14" height="1.26" fill="#d4ce2e"/>
<rect x="133.25" y="286.97" width="10.14" height="1.26" fill="#7c7a87"/>
<rect x="143.34" y="286.97" width="10.14" height="1.26" fill="#5f5aa8"/>
<rect x="153.43" y="286.97" width="10.14" height="1.26" fill="#5e58aa"/>
<rect x="163.53" y="286.97" width="10.14" height="1.26" fill="#afab53"/>
<rect x="173.62" y="286.97" width="10.14" height="1.26" fill="#716d94"/>
<rect x="183.71" y="286.97" width="10.14" height="1.26" fill="#9a9768"/>
<rect x="72.70" y="288.18" width="10.14" height="1.26" fill="#5d57aa"/>
<rect x="82.79" y="288.18" width="10.14" height="1.26" fill="#5b56ac"/>
<rect x="92.88" y="288.18" width="10.14" height="1.26" fill="#5d57aa"/>
<rect x="102.97" y="288.18" width="10.14" height="1.26" fill="#9a9768"/>
<rect x="113.07" y="288.18" width="10.14" height="1.26" fill="#78758b"/>
<rect x="123.16" y="288.18" width="10.14" height="1.26" fill="#d4ce2e"/>
<rect x="133.25" y="288.18" width="10.14" height="1.26" fill="#78758c"/>
<rect x="143.34" y="288.18" width="10.14" height="1.26" fill="#635da4"/>
<rect x="153.43" y="288.18" width="10.14" height="1.26" fill="#625ca5"/>
<rect x="163.53" y="288.18" width="10.14" height="1.26" fill="#b8b44a"/>
<rect x="173.62" y="288.18" width="10.14" height="1.26" fill="#7c7987"/>
<rect x="183.71" y="288.18" width="10.14" height="1.26" fill="#aca856"/>
<rect x="72.70" y="289.39" width="10.14" height="1.26" fill="#6560a1"/>
<rect x="82.79" y="289.39" width="10.14" height="1.26" fill="#6560a1"/>
<rect x="92.88" y="289.39" width="10.14" height="1.26" fill="#67629f"/>
<rect x="102.97" y="289.39" width="10.14" height="1.26" fill="#87857b"/>
<rect x="113.07" y="289.39" width="10.14" height="1.26" fill="#67639f"/>
<rect x="123.16" y="289.39" width="10.14" height="1.26" fill="#bdb845"/>
<rect x="133.25" y="289.39" width="10.14" height="1.26" fill="#7b7988"/>
<rect x="143.34" y="289.39" width="10.14" height="1.26" fill="#5f5aa8"/>
<rect x="153.43" y="289.39" width="10.14" height="1.26" fill="#615ca6"/>
<rect x="163.53" y="289.39" width="10.14" height="1.26" fill="#cac538"/>
<rect x="173.62" y="289.39" width="10.14" height="1.26" fill="#78768b"/>
<rect x="183.71" y="289.39" width="10.14" height="1.26" fill="#a8a45a"/>
<rect x="72.70" y="290.61" width="10.14" height="1.26" fill="#5d57aa"/>
<rect x="82.79" y="290.61" width="10.14" height="1.26" fill="#615ca6"/>
<rect x="92.88" y="290.61" width="10.14" height="1.26" fill="#5d57ab"/>
<rect x="102.97" y="290.61" width="10.14" height="1.26" fill="#aea954"/>
<rect x="113.07" y="290.61" width="10.14" height="1.26" fill="#7b7888"/>
<rect x="123.16" y="290.61" width="10.14" height="1.26" fill="#d4ce2e"/>
<rect x="133.25" y="290.61" width="10.14" height="1.26" fill="#817f81"/>
<rect x="143.34" y="290.61" width="10.14" height="1.26" fill="#5f59a8"/>
<rect x="153.43" y="290.61" width="10.14" height="1.26" fill="#635ea3"/>
<rect x="163.53" y="290.61" width="10.14" height="1.26" fill="#c6c13c"/>
<rect x="173.62" y="290.61" width="10.14" height="1.26" fill="#726e93"/>
<rect x="183.71" y="290.61" width="10.14" height="1.26" fill="#aca856"/>
<rect x="72.70" y="291.82" width="10.14" height="1.26" fill="#5d57aa"/>
<rect x="82.79" y="291.82" width="10.14" height="1.26" fill="#5c56ac"/>
<rect x="92.88" y="291.82" width="10.14" height="1.26" fill="#5d57ab"/>
<rect x="102.97" y="291.82" width="10.14" height="1.26" fill="#aaa658"/>
<rect x="113.07" y="291.82" width="10.14" height="1.26" fill="#7b7988"/>
<rect x="123.16" y="291.82" width="10.14" height="1.26" fill="#d4ce2e"/>
<rect x="133.25" y="291.82" width="10.14" height="1.26" fill="#77748d"/>
<rect x="143.34" y="291.82" width="10.14" height="1.26" fill="#5a54ae"/>
<rect x="153.43" y="291.82" width="10.14" height="1.26" fill="#5f5aa8"/>
<rect x="163.53" y="291.82" width="10.14" height="1.26" fill="#c2bd40"/>
<rect x="173.62" y="291.82" width="10.14" height="1.26" fill="#706c95"/>
<rect x="183.71" y="291.82" width="10.14" height="1.26" fill="#a6a25c"/>
<rect x="72.70" y="293.04" width="10.14" height="1.26" fill="#605ba7"/>
<rect x="82.79" y="293.04" width="10.14" height="1.26" fill="#6560a1"/>
<rect x="92.88" y="293.04" width="10.14" height="1.26" fill="#605ba7"/>
<rect x="102.97" y="293.04" width="10.14" height="1.26" fill="#afab53"/>
<rect x="113.07" y="293.04" width="10.14" height="1.26" fill="#77748d"/>
<rect x="123.16" y="293.04" width="10.14" height="1.26" fill="#d4ce2e"/>
<rect x="133.25" y="293.04" width="10.14" height="1.26" fill="#77748c"/>
<rect x="143.34" y="293.04" width="10.14" height="1.26" fill="#5e58aa"/>
<rect x="153.43" y="293.04" width="10.14" height="1.26" fill="#5f5aa8"/>
<rect x="163.53" y="293.04" width="10.14" height="1.26" fill="#d4ce2e"/>
<rect x="173.62" y="293.04" width="10.14" height="1.26" fill="#7d7a86"/>
<rect x="183.71" y="293.04" width="10.14" height="1.26" fill="#aeaa54"/>
<rect x="72.70" y="294.25" width="10.14" height="1.26" fill="#5e58aa"/>
<rect x="82.79" y="294.25" width="10.14" height="1.26" fill="#5d57ab"/>
<rect x="92.88" y="294.25" width="10.14" height="1.26" fill="#5e58aa"/>
<rect x="102.97" y="294.25" width="10.14" height="1.26" fill="#96936c"/>
<rect x="113.07" y="294.25" width="10.14" height="1.26" fill="#6f6b96"/>
<rect x="123.16" y="294.25" width="10.14" height="1.26" fill="#d1cb31"/>
<rect x="133.25" y="294.25" width="10.14" height="1.26" fill="#78758b"/>
<rect x="143.34" y="294.25" width="10.14" height="1.26" fill="#5b55ac"/>
<rect x="153.43" y="294.25" width="10.14" height="1.26" fill="#5a54ae"/>
<rect x="163.53" y="294.25" width="10.14" height="1.26" fill="#d3cd2f"/>
<rect x="173.62" y="294.25" width="10.14" height="1.26" fill="#7a778a"/>
<rect x="183.71" y="294.25" width="10.14" height="1.26" fill="#b4b04e"/>
<rect x="72.70" y="295.46" width="10.14" height="1.26" fill="#5a54ae"/>
<rect x="82.79" y="295.46" width="10.14" height="1.26" fill="#5c56ac"/>
<rect x="92.88" y="295.46" width="10.14" height="1.26" fill="#5d57ab"/>
<rect x="102.97" y="295.46" width="10.14" height="1.26" fill="#a5a15d"/>
<rect x="113.07" y="295.46" width="10.14" height="1.26" fill="#6e6a98"/>
<rect x="123.16" y="295.46" width="10.14" height="1.26" fill="#c8c23a"/>
<rect x="133.25" y="295.46" width="10.14" height="1.26" fill="#7c7987"/>
<rect x="143.34" y="295.46" width="10.14" height="1.26" fill="#615ca6"/>
<rect x="153.43" y="295.46" width="10.14" height="1.26" fill="#5f5aa8"/>
<rect x="163.53" y="295.46" width="10.14" height="1.26" fill="#aba757"/>
<rect x="173.62" y="295.46" width="10.14" height="1.26" fill="#706d94"/>
<rect x="183.71" y="295.46" width="10.14" height="1.26" fill="#9b9867"/>
<rect x="72.70" y="296.68" width="10.14" height="1.26" fill="#5f5aa8"/>
<rect x="82.79" y="296.68" width="10.14" height="1.26" fill="#5d57ab"/>
<rect x="92.88" y="296.68" width="10.14" height="1.26" fill="#615ca6"/>
<rect x="102.97" y="296.68" width="10.14" height="1.26" fill="#9c9966"/>
<rect x="113.07" y="296.68" width="10.14" height="1.26" fill="#6f6b95"/>
<rect x="123.16" y="296.68" width="10.14" height="1.26" fill="#d4ce2e"/>
<rect x="133.25" y="296.68" width="10.14" height="1.26" fill="#7a7789"/>
<rect x="143.34" y="296.68" width="10.14" height="1.26" fill="#605aa7"/>
<rect x="153.43" y="296.68" width="10.14" height="1.26" fill="#5f5aa8"/>
<rect x="163.53" y="296.68" width="10.14" height="1.26" fill="#d0ca32"/>
<rect x="173.62" y="296.68" width="10.14" height="1.26" fill="#7f7d83"/>
<rect x="183.71" y="296.68" width="10.14" height="1.26" fill="#aeaa54"/>
<rect x="72.70" y="297.89" width="10.14" height="1.26" fill="#68649e"/>
<rect x="82.79" y="297.89" width="10.14" height="1.26" fill="#645fa2"/>
<rect x="92.88" y="297.89" width="10.14" height="1.26" fill="#6560a2"/>
<rect x="102.97" y="297.89" width="10.14" height="1.26" fill="#aaa658"/>
<rect x="113.07" y="297.89" width="10.14" height="1.26" fill="#7c7987"/>
<rect x="123.16" y="297.89" width="10.14" height="1.26" fill="#d4ce2e"/>
<rect x="133.25" y="297.89" width="10.14" height="1.26" fill="#807e82"/>
<rect x="143.34" y="297.89" width="10.14" height="1.26" fill="#625da5"/>
<rect x="153.43" y="297.89" width="10.14" height="1.26" fill="#615ba6"/>
<rect x="163.53" y="297.89" width="10.14" height="1.26" fill="#cbc637"/>
<rect x="173.62" y="297.89" width="10.14" height="1.26" fill="#75728f"/>
<rect x="183.71" y="297.89" width="10.14" height="1.26" fill="#b4b04e"/>
<rect x="72.70" y="299.11" width="10.14" height="1.26" fill="#605aa8"/>
<rect x="82.79" y="299.11" width="10.14" height="1.26" fill="#605ba7"/>
<rect x="92.88" y="299.11" width="10.14" height="1.26" fill="#5b55ad"/>
<rect x="102.97" y="299.11" width="10.14" height="1.26" fill="#98956a"/>
<rect x="113.07" y="299.11" width="10.14" height="1.26" fill="#6e6b96"/>
<rect x="123.16" y="299.11" width="10.14" height="1.26" fill="#c4bf3e"/>
<rect x="133.25" y="299.11" width="10.14" height="1.26" fill="#716e93"/>
<rect x="143.34" y="299.11" width="10.14" height="1.26" fill="#5b56ac"/>
<rect x="153.43" y="299.11" width="10.14" height="1.26" fill="#5c56ac"/>
<rect x="163.53" y="299.11" width="10.14" height="1.26" fill="#bcb746"/>
<rect x="173.62" y="299.11" width="10.14" height="1.26" fill="#706d94"/>
<rect x="183.71" y="299.11" width="10.14" height="1.26" fill="#918e71"/>
<rect x="72.70" y="300.32" width="10.14" height="1.26" fill="#5e59a9"/>
<rect x="82.79" y="300.32" width="10.14" height="1.26" fill="#5e58a9"/>
<rect x="92.88" y="300.32" width="10.14" height="1.26" fill="#5f59a9"/>
<rect x="102.97" y="300.32" width="10.14" height="1.26" fill="#95926d"/>
<rect x="113.07" y="300.32" width="10.14" height="1.26" fill="#6c6899"/>
<rect x="123.16" y="300.32" width="10.14" height="1.26" fill="#c6c13c"/>
<rect x="133.25" y="300.32" width="10.14" height="1.26" fill="#807e82"/>
<rect x="143.34" y="300.32" width="10.14" height="1.26" fill="#5e59a9"/>
<rect x="153.43" y="300.32" width="10.14" height="1.26" fill="#605ba7"/>
<rect x="163.53" y="300.32" width="10.14" height="1.26" fill="#b2ae50"/>
<rect x="173.62" y="300.32" width="10.14" height="1.26" fill="#6c6899"/>
<rect x="183.71" y="300.32" width="10.14" height="1.26" fill="#9c9966"/>
<rect x="72.70" y="301.53" width="10.14" height="1.26" fill="#5e59a9"/>
<rect x="82.79" y="301.53" width="10.14" height="1.26" fill="#605aa8"/>
<rect x="92.88" y="301.53" width="10.14" height="1.26" fill="#5d58aa"/>
<rect x="102.97" y="301.53" width="10.14" height="1.26" fill="#918e71"/>
<rect x="113.07" y="301.53" width="10.14" height="1.26" fill="#6661a0"/>
<rect x="123.16" y="301.53" width="10.14" height="1.26" fill="#cdc735"/>
<rect x="133.25" y="301.53" width="10.14" height="1.26" fill="#78758c"/>
<rect x="143.34" y="301.53" width="10.14" height="1.26" fill="#5d57ab"/>
<rect x="153.43" y="301.53" width="10.14" height="1.26" fill="#5e58a9"/>
<rect x="163.53" y="301.53" width="10.14" height="1.26" fill="#b5b14d"/>
<rect x="173.62" y="301.53" width="10.14" height="1.26" fill="#6e6a97"/>
<rect x="183.71" y="301.53" width="10.14" height="1.26" fill="#8d8a75"/>
<rect x="72.70" y="302.75" width="10.14" height="1.26" fill="#5f5aa8"/>
<rect x="82.79" y="302.75" width="10.14" height="1.26" fill="#625da5"/>
<rect x="92.88" y="302.75" width="10.14" height="1.26" fill="#635ea4"/>
<rect x="102.97" y="302.75" width="10.14" height="1.26" fill="#a19e61"/>
<rect x="113.07" y="302.75" width="10.14" height="1.26" fill="#706c94"/>
<rect x="123.16" y="302.75" width="10.14" height="1.26" fill="#d4ce2e"/>
<rect x="133.25" y="302.75" width="10.14" height="1.26" fill="#736f92"/>
<rect x="143.34" y="302.75" width="10.14" height="1.26" fill="#5e58aa"/>
<rect x="153.43" y="302.75" width="10.14" height="1.26" fill="#5a54ae"/>
<rect x="163.53" y="302.75" width="10.14" height="1.26" fill="#c5c03d"/>
<rect x="173.62" y="302.75" width="10.14" height="1.26" fill="#7a7789"/>
<rect x="183.71" y="302.75" width="10.14" height="1.26" fill="#afaa53"/>
<rect x="72.70" y="303.96" width="10.14" height="1.26" fill="#605ba7"/>
<rect x="82.79" y="303.96" width="10.14" height="1.26" fill="#5f59a9"/>
<rect x="92.88" y="303.96" width="10.14" height="1.26" fill="#5c56ac"/>
<rect x="102.97" y="303.96" width="10.14" height="1.26" fill="#a6a35c"/>
<rect x="113.07" y="303.96" width="10.14" height="1.26" fill="#726f92"/>
<rect x="123.16" y="303.96" width="10.14" height="1.26" fill="#d4ce2e"/>
<rect x="133.25" y="303.96" width="10.14" height="1.26" fill="#7a7789"/>
<rect x="143.34" y="303.96" width="10.14" height="1.26" fill="#625da5"/>
<rect x="153.43" y="303.96" width="10.14" height="1.26" fill="#615ca6"/>
<rect x="163.53" y="303.96" width="10.14" height="1.26" fill="#ccc736"/>
<rect x="173.62" y="303.96" width="10.14" height="1.26" fill="#7d7a86"/>
<rect x="183.71" y="303.96" width="10.14" height="1.26" fill="#bdb845"/>
<rect x="72.70" y="305.17" width="10.14" height="1.26" fill="#5f59a9"/>
<rect x="82.79" y="305.17" width="10.14" height="1.26" fill="#5b55ad"/>
<rect x="92.88" y="305.17" width="10.14" height="1.26" fill="#5b55ad"/>
<rect x="102.97" y="305.17" width="10.14" height="1.26" fill="#a5a15d"/>
<rect x="113.07" y="305.17" width="10.14" height="1.26" fill="#76728e"/>
<rect x="123.16" y="305.17" width="10.14" height="1.26" fill="#d4ce2e"/>
<rect x="133.25" y="305.17" width="10.14" height="1.26" fill="#7e7c85"/>
<rect x="143.34" y="305.17" width="10.14" height="1.26" fill="#6560a2"/>
<rect x="153.43" y="305.17" width="10.14" height="1.26" fill="#645fa3"/>
<rect x="163.53" y="305.17" width="10.14" height="1.26" fill="#c8c23a"/>
<rect x="173.62" y="305.17" width="10.14" height="1.26" fill="#7b7889"/>
<rect x="183.71" y="305.17" width="10.14" height="1.26" fill="#b6b24c"/>
<rect x="72.70" y="306.39" width="10.14" height="1.26" fill="#5f59a9"/>
<rect x="82.79" y="306.39" width="10.14" height="1.26" fill="#5c57ab"/>
<rect x="92.88" y="306.39" width="10.14" height="1.26" fill="#5d57ab"/>
<rect x="102.97" y="306.39" width="10.14" height="1.26" fill="#605aa8"/>
<rect x="113.07" y="306.39" width="10.14" height="1.26" fill="#5d58aa"/>
<rect x="123.16" y="306.39" width="10.14" height="1.26" fill="#5f5aa8"/>
<rect x="133.25" y="306.39" width="10.14" height="1.26" fill="#c2bd40"/>
<rect x="143.34" y="306.39" width="10.14" height="1.26" fill="#88857a"/>
<rect x="153.43" y="306.39" width="10.14" height="1.26" fill="#d4ce2e"/>
<rect x="163.53" y="306.39" width="10.14" height="1.26" fill="#a29f60"/>
<rect x="173.62" y="306.39" width="10.14" height="1.26" fill="#726f92"/>
<rect x="183.71" y="306.39" width="10.14" height="1.26" fill="#a09d62"/>
<rect x="72.70" y="307.60" width="10.14" height="1.26" fill="#5f59a8"/>
<rect x="82.79" y="307.60" width="10.14" height="1.26" fill="#5a54ae"/>
<rect x="92.88" y="307.60" width="10.14" height="1.26" fill="#5f59a8"/>
<rect x="102.97" y="307.60" width="10.14" height="1.26" fill="#625da5"/>
<rect x="113.07" y="307.60" width="10.14" height="1.26" fill="#645fa3"/>
<rect x="123.16" y="307.60" width="10.14" height="1.26" fill="#5f59a9"/>
<rect x="133.25" y="307.60" width="10.14" height="1.26" fill="#b5b04d"/>
<rect x="143.34" y="307.60" width="10.14" height="1.26" fill="#85837d"/>
<rect x="153.43" y="307.60" width="10.14" height="1.26" fill="#cdc835"/>
<rect x="163.53" y="307.60" width="10.14" height="1.26" fill="#9d9a65"/>
<rect x="173.62" y="307.60" width="10.14" height="1.26" fill="#7b7888"/>
<rect x="183.71" y="307.60" width="10.14" height="1.26" fill="#9b9867"/>
<rect x="72.70" y="308.82" width="10.14" height="1.26" fill="#5e59a9"/>
<rect x="82.79" y="308.82" width="10.14" height="1.26" fill="#615ca6"/>
<rect x="92.88" y="308.82" width="10.14" height="1.26" fill="#5d57aa"/>
<rect x="102.97" y="308.82" width="10.14" height="1.26" fill="#5e59a9"/>
<rect x="113.07" y="308.82" width="10.14" height="1.26" fill="#605ba7"/>
<rect x="123.16" y="308.82" width="10.14" height="1.26" fill="#5b55ad"/>
<rect x="133.25" y="308.82" width="10.14" height="1.26" fill="#bfba43"/>
<rect x="143.34" y="308.82" width="10.14" height="1.26" fill="#929070"/>
<rect x="153.43" y="308.82" width="10.14" height="1.26" fill="#d1cb31"/>
<rect x="163.53" y="308.82" width="10.14" height="1.26" fill="#a4a05e"/>
<rect x="173.62" y="308.82" width="10.14" height="1.26" fill="#77748d"/>
<rect x="183.71" y="308.82" width="10.14" height="1.26" fill="#9b9867"/>
<rect x="72.70" y="310.03" width="10.14" height="1.26" fill="#5d57ab"/>
<rect x="82.79" y="310.03" width="10.14" height="1.26" fill="#605aa8"/>
<rect x="92.88" y="310.03" width="10.14" height="1.26" fill="#5c57ab"/>
<rect x="102.97" y="310.03" width="10.14" height="1.26" fill="#5b55ac"/>
<rect x="113.07" y="310.03" width="10.14" height="1.26" fill="#5a54ae"/>
<rect x="123.16" y="310.03" width="10.14" height="1.26" fill="#5a54ae"/>
<rect x="133.25" y="310.03" width="10.14" height="1.26" fill="#b9b549"/>
<rect x="143.34" y="310.03" width="10.14" height="1.26" fill="#8b8977"/>
<rect x="153.43" y="310.03" width="10.14" height="1.26" fill="#d4ce2e"/>
<rect x="163.53" y="310.03" width="10.14" height="1.26" fill="#b8b34a"/>
<rect x="173.62" y="310.03" width="10.14" height="1.26" fill="#7e7c84"/>
<rect x="183.71" y="310.03" width="10.14" height="1.26" fill="#b4b04e"/>
<rect x="72.70" y="311.25" width="10.14" height="1.26" fill="#605aa8"/>
<rect x="82.79" y="311.25" width="10.14" height="1.26" fill="#5c56ac"/>
<rect x="92.88" y="311.25" width="10.14" height="1.26" fill="#5a54ae"/>
<rect x="102.97" y="311.25" width="10.14" height="1.26" fill="#605aa7"/>
<rect x="113.07" y="311.25" width="10.14" height="1.26" fill="#5d58aa"/>
<rect x="123.16" y="311.25" width="10.14" height="1.26" fill="#5c56ac"/>
<rect x="133.25" y="311.25" width="10.14" height="1.26" fill="#98956a"/>
<rect x="143.34" y="311.25" width="10.14" height="1.26" fill="#79778a"/>
<rect x="153.43" y="311.25" width="10.14" height="1.26" fill="#c0bb42"/>
<rect x="163.53" y="311.25" width="10.14" height="1.26" fill="#a19d61"/>
<rect x="173.62" y="311.25" width="10.14" height="1.26" fill="#726f92"/>
<rect x="183.71" y="311.25" width="10.14" height="1.26" fill="#97946b"/>
<rect x="72.70" y="312.46" width="10.14" height="1.26" fill="#605ba7"/>
<rect x="82.79" y="312.46" width="10.14" height="1.26" fill="#68639e"/>
<rect x="92.88" y="312.46" width="10.14" height="1.26" fill="#605ba7"/>
<rect x="102.97" y="312.46" width="10.14" height="1.26" fill="#605aa8"/>
<rect x="113.07" y="312.46" width="10.14" height="1.26" fill="#605ba7"/>
<rect x="123.16" y="312.46" width="10.14" height="1.26" fill="#5f5aa8"/>
<rect x="133.25" y="312.46" width="10.14" height="1.26" fill="#a7a35b"/>
<rect x="143.34" y="312.46" width="10.14" height="1.26" fill="#79768b"/>
<rect x="153.43" y="312.46" width="10.14" height="1.26" fill="#c3bd3f"/>
<rect x="163.53" y="312.46" width="10.14" height="1.26" fill="#999669"/>
<rect x="173.62" y="312.46" width="10.14" height="1.26" fill="#6a669c"/>
<rect x="183.71" y="312.46" width="10.14" height="1.26" fill="#908d72"/>
<rect x="72.70" y="313.68" width="10.14" height="1.26" fill="#5a54ae"/>
<rect x="82.79" y="313.68" width="10.14" height="1.26" fill="#5b56ac"/>
<rect x="92.88" y="313.68" width="10.14" height="1.26" fill="#5b55ad"/>
<rect x="102.97" y="313.68" width="10.14" height="1.26" fill="#5d57ab"/>
<rect x="113.07" y="313.68" width="10.14" height="1.26" fill="#5f5aa8"/>
<rect x="123.16" y="313.68" width="10.14" height="1.26" fill="#5c57ab"/>
<rect x="133.25" y="313.68" width="10.14" height="1.26" fill="#b1ad51"/>
<rect x="143.34" y="313.68" width="10.14" height="1.26" fill="#85837d"/>
<rect x="153.43" y="313.68" width="10.14" height="1.26" fill="#c6c13c"/>
<rect x="163.53" y="313.68" width="10.14" height="1.26" fill="#b2ae50"/>
<rect x="173.62" y="313.68" width="10.14" height="1.26" fill="#7b7888"/>
<rect x="183.71" y="313.68" width="10.14" height="1.26" fill="#a6a25c"/>
<rect x="72.70" y="314.89" width="10.14" height="1.26" fill="#5b56ac"/>
<rect x="82.79" y="314.89" width="10.14" height="1.26" fill="#5b55ad"/>
<rect x="92.88" y="314.89" width="10.14" height="1.26" fill="#615ca6"/>
<rect x="102.97" y="314.89" width="10.14" height="1.26" fill="#625da5"/>
<rect x="113.07" y="314.89" width="10.14" height="1.26" fill="#635ea4"/>
<rect x="123.16" y="314.89" width="10.14" height="1.26" fill="#5f5aa8"/>
<rect x="133.25" y="314.89" width="10.14" height="1.26" fill="#b4af4e"/>
<rect x="143.34" y="314.89" width="10.14" height="1.26" fill="#817e82"/>
<rect x="153.43" y="314.89" width="10.14" height="1.26" fill="#d3cd2f"/>
<rect x="163.53" y="314.89" width="10.14" height="1.26" fill="#b6b14c"/>
<rect x="173.62" y="314.89" width="10.14" height="1.26" fill="#83817f"/>
<rect x="183.71" y="314.89" width="10.14" height="1.26" fill="#ada955"/>
<rect x="72.70" y="316.11" width="10.14" height="1.26" fill="#5a54ae"/>
<rect x="82.79" y="316.11" width="10.14" height="1.26" fill="#5a54ae"/>
<rect x="92.88" y="316.11" width="10.14" height="1.26" fill="#5b56ac"/>
<rect x="102.97" y="316.11" width="10.14" height="1.26" fill="#5a54ae"/>
<rect x="113.07" y="316.11" width="10.14" height="1.26" fill="#5a54ae"/>
<rect x="123.16" y="316.11" width="10.14" height="1.26" fill="#5a54ae"/>
<rect x="133.25" y="316.11" width="10.14" height="1.26" fill="#bdb845"/>
<rect x="143.34" y="316.11" width="10.14" height="1.26" fill="#898779"/>
<rect x="153.43" y="316.11" width="10.14" height="1.26" fill="#d4ce2e"/>
<rect x="163.53" y="316.11" width="10.14" height="1.26" fill="#9c9866"/>
<rect x="173.62" y="316.11" width="10.14" height="1.26" fill="#747190"/>
<rect x="183.71" y="316.11" width="10.14" height="1.26" fill="#9c9966"/>
<rect x="72.70" y="317.32" width="10.14" height="1.26" fill="#625ca5"/>
<rect x="82.79" y="317.32" width="10.14" height="1.26" fill="#5d57ab"/>
<rect x="92.88" y="317.32" width="10.14" height="1.26" fill="#5f59a9"/>
<rect x="102.97" y="317.32" width="10.14" height="1.26" fill="#5a54ae"/>
<rect x="113.07" y="317.32" width="10.14" height="1.26" fill="#5a54ae"/>
<rect x="123.16" y="317.32" width="10.14" height="1.26" fill="#5b55ad"/>
<rect x="133.25" y="317.32" width="10.14" height="1.26" fill="#aaa658"/>
<rect x="143.34" y="317.32" width="10.14" height="1.26" fill="#828080"/>
<rect x="153.43" y="317.32" width="10.14" height="1.26" fill="#c5c03d"/>
<rect x="163.53" y="317.32" width="10.14" height="1.26" fill="#93906f"/>
<rect x="173.62" y="317.32" width="10.14" height="1.26" fill="#77748c"/>
<rect x="183.71" y="317.32" width="10.14" height="1.26" fill="#9c9966"/>
<rect x="72.70" y="318.53" width="10.14" height="1.26" fill="#625da4"/>
<rect x="82.79" y="318.53" width="10.14" height="1.26" fill="#5f5aa8"/>
<rect x="92.88" y="318.53" width="10.14" height="1.26" fill="#625da4"/>
<rect x="102.97" y="318.53" width="10.14" height="1.26" fill="#605aa8"/>
<rect x="113.07" y="318.53" width="10.14" height="1.26" fill="#5b56ac"/>
<rect x="123.16" y="318.53" width="10.14" height="1.26" fill="#5d57ab"/>
<rect x="133.25" y="318.53" width="10.14" height="1.26" fill="#c0bb42"/>
<rect x="143.34" y="318.53" width="10.14" height="1.26" fill="#87847b"/>
<rect x="153.43" y="318.53" width="10.14" height="1.26" fill="#d4ce2e"/>
<rect x="163.53" y="318.53" width="10.14" height="1.26" fill="#9a9768"/>
<rect x="173.62" y="318.53" width="10.14" height="1.26" fill="#706c95"/>
<rect x="183.71" y="318.53" width="10.14" height="1.26" fill="#918f71"/>
<rect x="72.70" y="319.75" width="10.14" height="1.26" fill="#635ea4"/>
<rect x="82.79" y="319.75" width="10.14" height="1.26" fill="#635ea4"/>
<rect x="92.88" y="319.75" width="10.14" height="1.26" fill="#635ea4"/>
<rect x="102.97" y="319.75" width="10.14" height="1.26" fill="#625ca5"/>
<rect x="113.07" y="319.75" width="10.14" height="1.26" fill="#605aa7"/>
<rect x="123.16" y="319.75" width="10.14" height="1.26" fill="#605aa7"/>
<rect x="133.25" y="319.75" width="10.14" height="1.26" fill="#c4bf3e"/>
<rect x="143.34" y="319.75" width="10.14" height="1.26" fill="#8f8c73"/>
<rect x="153.43" y="319.75" width="10.14" height="1.26" fill="#d4ce2e"/>
<rect x="163.53" y="319.75" width="10.14" height="1.26" fill="#a3a05f"/>
<rect x="173.62" y="319.75" width="10.14" height="1.26" fill="#7d7b86"/>
<rect x="183.71" y="319.75" width="10.14" height="1.26" fill="#a7a35b"/>
<rect x="72.70" y="320.96" width="10.14" height="1.26" fill="#5c56ac"/>
<rect x="82.79" y="320.96" width="10.14" height="1.26" fill="#5b56ac"/>
<rect x="92.88" y="320.96" width="10.14" height="1.26" fill="#5a54ae"/>
<rect x="102.97" y="320.96" width="10.14" height="1.26" fill="#5b55ad"/>
<rect x="113.07" y="320.96" width="10.14" height="1.26" fill="#5a54ae"/>
<rect x="123.16" y="320.96" width="10.14" height="1.26" fill="#5f59a8"/>
<rect x="133.25" y="320.96" width="10.14" height="1.26" fill="#b2ae50"/>
<rect x="143.34" y="320.96" width="10.14" height="1.26" fill="#817f81"/>
<rect x="153.43" y="320.96" width="10.14" height="1.26" fill="#d4ce2e"/>
<rect x="163.53" y="320.96" width="10.14" height="1.26" fill="#a39f5f"/>
<rect x="173.62" y="320.96" width="10.14" height="1.26" fill="#76738e"/>
<rect x="183.71" y="320.96" width="10.14" height="1.26" fill="#9c9866"/>
<rect x="72.70" y="322.18" width="10.14" height="1.26" fill="#5d57ab"/>
<rect x="82.79" y="322.18" width="10.14" height="1.26" fill="#5d58aa"/>
<rect x="92.88" y="322.18" width="10.14" height="1.26" fill="#5c56ac"/>
<rect x="102.97" y="322.18" width="10.14" height="1.26" fill="#6560a1"/>
<rect x="113.07" y="322.18" width="10.14" height="1.26" fill="#605ba7"/>
<rect x="123.16" y="322.18" width="10.14" height="1.26" fill="#645fa2"/>
<rect x="133.25" y="322.18" width="10.14" height="1.26" fill="#c5c03d"/>
<rect x="143.34" y="322.18" width="10.14" height="1.26" fill="#96936c"/>
<rect x="153.43" y="322.18" width="10.14" height="1.26" fill="#d4ce2e"/>
<rect x="163.53" y="322.18" width="10.14" height="1.26" fill="#c1bc41"/>
<rect x="173.62" y="322.18" width="10.14" height="1.26" fill="#7f7d83"/>
<rect x="183.71" y="322.18" width="10.14" height="1.26" fill="#b2ae50"/>
<rect x="72.70" y="323.39" width="10.14" height="1.26" fill="#5a54ae"/>
<rect x="82.79" y="323.39" width="10.14" height="1.26" fill="#5b55ad"/>
<rect x="92.88" y="323.39" width="10.14" height="1.26" fill="#605ba7"/>
<rect x="102.97" y="323.39" width="10.14" height="1.26" fill="#645fa2"/>
<rect x="113.07" y="323.39" width="10.14" height="1.26" fill="#615ca6"/>
<rect x="123.16" y="323.39" width="10.14" height="1.26" fill="#5f59a9"/>
<rect x="133.25" y="323.39" width="10.14" height="1.26" fill="#c2bd40"/>
<rect x="143.34" y="323.39" width="10.14" height="1.26" fill="#9c9966"/>
<rect x="153.43" y="323.39" width="10.14" height="1.26" fill="#d4ce2e"/>
<rect x="163.53" y="323.39" width="10.14" height="1.26" fill="#9e9b64"/>
<rect x="173.62" y="323.39" width="10.14" height="1.26" fill="#736f92"/>
<rect x="183.71" y="323.39" width="10.14" height="1.26" fill="#999669"/>
<rect x="72.70" y="324.61" width="10.14" height="1.26" fill="#5a54ae"/>
<rect x="82.79" y="324.61" width="10.14" height="1.26" fill="#5a54ae"/>
<rect x="92.88" y="324.61" width="10.14" height="1.26" fill="#5a54ae"/>
<rect x="102.97" y="324.61" width="10.14" height="1.26" fill="#605ba7"/>
<rect x="113.07" y="324.61" width="10.14" height="1.26" fill="#635ea4"/>
<rect x="123.16" y="324.61" width="10.14" height="1.26" fill="#625ca5"/>
<rect x="133.25" y="324.61" width="10.14" height="1.26" fill="#a09c62"/>
<rect x="143.34" y="324.61" width="10.14" height="1.26" fill="#7e7b85"/>
<rect x="153.43" y="324.61" width="10.14" height="1.26" fill="#cdc735"/>
<rect x="163.53" y="324.61" width="10.14" height="1.26" fill="#a7a45b"/>
<rect x="173.62" y="324.61" width="10.14" height="1.26" fill="#85837d"/>
<rect x="183.71" y="324.61" width="10.14" height="1.26" fill="#b2ae50"/>
<rect x="72.70" y="325.82" width="10.14" height="1.26" fill="#635ea3"/>
<rect x="82.79" y="325.82" width="10.14" height="1.26" fill="#5e59a9"/>
<rect x="92.88" y="325.82" width="10.14" height="1.26" fill="#5f5aa8"/>
<rect x="102.97" y="325.82" width="10.14" height="1.26" fill="#5a54ae"/>
<rect x="113.07" y="325.82" width="10.14" height="1.26" fill="#5a54ae"/>
<rect x="123.16" y="325.82" width="10.14" height="1.26" fill="#5a55ad"/>
<rect x="133.25" y="325.82" width="10.14" height="1.26" fill="#a19d61"/>
<rect x="143.34" y="325.82" width="10.14" height="1.26" fill="#7c7a87"/>
<rect x="153.43" y="325.82" width="10.14" height="1.26" fill="#cfc933"/>
<rect x="163.53" y="325.82" width="10.14" height="1.26" fill="#ada955"/>
<rect x="173.62" y="325.82" width="10.14" height="1.26" fill="#78758b"/>
<rect x="183.71" y="325.82" width="10.14" height="1.26" fill="#9d9a65"/>
<rect x="72.70" y="327.04" width="10.14" height="1.26" fill="#5c56ac"/>
<rect x="82.79" y="327.04" width="10.14" height="1.26" fill="#5f5aa8"/>
<rect x="92.88" y="327.04" width="10.14" height="1.26" fill="#5c57ab"/>
<rect x="102.97" y="327.04" width="10.14" height="1.26" fill="#5a54ae"/>
<rect x="113.07" y="327.04" width="10.14" height="1.26" fill="#5f5aa8"/>
<rect x="123.16" y="327.04" width="10.14" height="1.26" fill="#5e59a9"/>
<rect x="133.25" y="327.04" width="10.14" height="1.26" fill="#aca856"/>
<rect x="143.34" y="327.04" width="10.14" height="1.26" fill="#7c7a87"/>
<rect x="153.43" y="327.04" width="10.14" height="1.26" fill="#c1bc41"/>
<rect x="163.53" y="327.04" width="10.14" height="1.26" fill="#a29f60"/>
<rect x="173.62" y="327.04" width="10.14" height="1.26" fill="#7c7987"/>
<rect x="183.71" y="327.04" width="10.14" height="1.26" fill="#a09c62"/>
<rect x="72.70" y="328.25" width="10.14" height="1.26" fill="#5d57ab"/>
<rect x="82.79" y="328.25" width="10.14" height="1.26" fill="#5e59a9"/>
<rect x="92.88" y="328.25" width="10.14" height="1.26" fill="#5a54ae"/>
<rect x="102.97" y="328.25" width="10.14" height="1.26" fill="#625ca5"/>
<rect x="113.07" y="328.25" width="10.14" height="1.26" fill="#5e58aa"/>
<rect x="123.16" y="328.25" width="10.14" height="1.26" fill="#615ca6"/>
<rect x="133.25" y="328.25" width="10.14" height="1.26" fill="#b7b34b"/>
<rect x="143.34" y="328.25" width="10.14" height="1.26" fill="#86847c"/>
<rect x="153.43" y="328.25" width="10.14" height="1.26" fill="#d4ce2e"/>
<rect x="163.53" y="328.25" width="10.14" height="1.26" fill="#aeaa54"/>
<rect x="173.62" y="328.25" width="10.14" height="1.26" fill="#7f7c84"/>
<rect x="183.71" y="328.25" width="10.14" height="1.26" fill="#afab53"/>
<rect x="72.70" y="329.47" width="10.14" height="1.26" fill="#5f59a8"/>
<rect x="82.79" y="329.47" width="10.14" height="1.26" fill="#5f5aa8"/>
<rect x="92.88" y="329.47" width="10.14" height="1.26" fill="#6560a1"/>
<rect x="102.97" y="329.47" width="10.14" height="1.26" fill="#5f59a9"/>
<rect x="113.07" y="329.47" width="10.14" height="1.26" fill="#5f59a8"/>
<rect x="123.16" y="329.47" width="10.14" height="1.26" fill="#5c56ac"/>
<rect x="133.25" y="329.47" width="10.14" height="1.26" fill="#a6a25c"/>
<rect x="143.34" y="329.47" width="10.14" height="1.26" fill="#7d7a86"/>
<rect x="153.43" y="329.47" width="10.14" height="1.26" fill="#cdc735"/>
<rect x="163.53" y="329.47" width="10.14" height="1.26" fill="#9a9768"/>
<rect x="173.62" y="329.47" width="10.14" height="1.26" fill="#7a7789"/>
<rect x="183.71" y="329.47" width="10.14" height="1.26" fill="#999669"/>
<rect x="72.70" y="330.68" width="10.14" height="1.26" fill="#625da4"/>
<rect x="82.79" y="330.68" width="10.14" height="1.26" fill="#635ea3"/>
<rect x="92.88" y="330.68" width="10.14" height="1.26" fill="#635da4"/>
<rect x="102.97" y="330.68" width="10.14" height="1.26" fill="#5a54ae"/>
<rect x="113.07" y="330.68" width="10.14" height="1.26" fill="#5a54ae"/>
<rect x="123.16" y="330.68" width="10.14" height="1.26" fill="#5a54ae"/>
<rect x="133.25" y="330.68" width="10.14" height="1.26" fill="#a5a15d"/>
<rect x="143.34" y="330.68" width="10.14" height="1.26" fill="#86847c"/>
<rect x="153.43" y="330.68" width="10.14" height="1.26" fill="#d4ce2e"/>
<rect x="163.53" y="330.68" width="10.14" height="1.26" fill="#a9a559"/>
<rect x="173.62" y="330.68" width="10.14" height="1.26" fill="#77748d"/>
<rect x="183.71" y="330.68" width="10.14" height="1.26" fill="#a29f60"/>
<rect x="72.70" y="331.90" width="10.14" height="1.26" fill="#615ca6"/>
<rect x="82.79" y="331.90" width="10.14" height="1.26" fill="#605ba7"/>
<rect x="92.88" y="331.90" width="10.14" height="1.26" fill="#635ea3"/>
<rect x="102.97" y="331.90" width="10.14" height="1.26" fill="#625da5"/>
<rect x="113.07" y="331.90" width="10.14" height="1.26" fill="#635ea4"/>
<rect x="123.16" y="331.90" width="10.14" height="1.26" fill="#645fa2"/>
<rect x="133.25" y="331.90" width="10.14" height="1.26" fill="#c5c03d"/>
<rect x="143.34" y="331.90" width="10.14" height="1.26" fill="#807d83"/>
<rect x="153.43" y="331.90" width="10.14" height="1.26" fill="#d4ce2e"/>
<rect x="163.53" y="331.90" width="10.14" height="1.26" fill="#b7b34b"/>
<rect x="173.62" y="331.90" width="10.14" height="1.26" fill="#7f7d83"/>
<rect x="183.71" y="331.90" width="10.14" height="1.26" fill="#b7b34b"/>
<rect x="72.70" y="333.11" width="10.14" height="1.26" fill="#6560a2"/>
<rect x="82.79" y="333.11" width="10.14" height="1.26" fill="#615ca6"/>
<rect x="92.88" y="333.11" width="10.14" height="1.26" fill="#605ba7"/>
<rect x="102.97" y="333.11" width="10.14" height="1.26" fill="#5a54ae"/>
<rect x="113.07" y="333.11" width="10.14" height="1.26" fill="#5d57ab"/>
<rect x="123.16" y="333.11" width="10.14" height="1.26" fill="#5c56ac"/>
<rect x="133.25" y="333.11" width="10.14" height="1.26" fill="#b6b14c"/>
<rect x="143.34" y="333.11" width="10.14" height="1.26" fill="#7c7987"/>
<rect x="153.43" y="333.11" width="10.14" height="1.26" fill="#d4ce2e"/>
<rect x="163.53" y="333.11" width="10.14" height="1.26" fill="#9f9c63"/>
<rect x="173.62" y="333.11" width="10.14" height="1.26" fill="#726f92"/>
<rect x="183.71" y="333.11" width="10.14" height="1.26" fill="#9a9768"/>
<rect x="72.70" y="334.32" width="10.14" height="1.26" fill="#605aa7"/>
<rect x="82.79" y="334.32" width="10.14" height="1.26" fill="#615ca6"/>
<rect x="92.88" y="334.32" width="10.14" height="1.26" fill="#615ca6"/>
<rect x="102.97" y="334.32" width="10.14" height="1.26" fill="#625ca5"/>
<rect x="113.07" y="334.32" width="10.14" height="1.26" fill="#605ba7"/>
<rect x="123.16" y="334.32" width="10.14" height="1.26" fill="#605ba7"/>
<rect x="133.25" y="334.32" width="10.14" height="1.26" fill="#b2ae50"/>
<rect x="143.34" y="334.32" width="10.14" height="1.26" fill="#807e82"/>
<rect x="153.43" y="334.32" width="10.14" height="1.26" fill="#d4ce2e"/>
<rect x="163.53" y="334.32" width="10.14" height="1.26" fill="#b0ac52"/>
<rect x="173.62" y="334.32" width="10.14" height="1.26" fill="#7c7a87"/>
<rect x="183.71" y="334.32" width="10.14" height="1.26" fill="#b7b24b"/>
<rect x="72.70" y="335.54" width="10.14" height="1.26" fill="#67629f"/>
<rect x="82.79" y="335.54" width="10.14" height="1.26" fill="#6661a1"/>
<rect x="92.88" y="335.54" width="10.14" height="1.26" fill="#6460a2"/>
<rect x="102.97" y="335.54" width="10.14" height="1.26" fill="#5a54ae"/>
<rect x="113.07" y="335.54" width="10.14" height="1.26" fill="#5a54ae"/>
<rect x="123.16" y="335.54" width="10.14" height="1.26" fill="#5b55ad"/>
<rect x="133.25" y="335.54" width="10.14" height="1.26" fill="#beb944"/>
<rect x="143.34" y="335.54" width="10.14" height="1.26" fill="#84827e"/>
<rect x="153.43" y="335.54" width="10.14" height="1.26" fill="#d4ce2e"/>
<rect x="163.53" y="335.54" width="10.14" height="1.26" fill="#aeaa54"/>
<rect x="173.62" y="335.54" width="10.14" height="1.26" fill="#7d7a86"/>
<rect x="183.71" y="335.54" width="10.14" height="1.26" fill="#aeaa54"/>
<rect x="72.70" y="336.75" width="10.14" height="1.26" fill="#5e58a9"/>
<rect x="82.79" y="336.75" width="10.14" height="1.26" fill="#605ba7"/>
<rect x="92.88" y="336.75" width="10.14" height="1.26" fill="#5f5aa8"/>
<rect x="102.97" y="336.75" width="10.14" height="1.26" fill="#5d57ab"/>
<rect x="113.07" y="336.75" width="10.14" height="1.26" fill="#5c57ab"/>
<rect x="123.16" y="336.75" width="10.14" height="1.26" fill="#5a54ae"/>
<rect x="133.25" y="336.75" width="10.14" height="1.26" fill="#c5c03d"/>
<rect x="143.34" y="336.75" width="10.14" height="1.26" fill="#96936c"/>
<rect x="153.43" y="336.75" width="10.14" height="1.26" fill="#d4ce2e"/>
<rect x="163.53" y="336.75" width="10.14" height="1.26" fill="#c5c03d"/>
<rect x="173.62" y="336.75" width="10.14" height="1.26" fill="#8d8a75"/>
<rect x="183.71" y="336.75" width="10.14" height="1.26" fill="#c0bb42"/>
<rect x="72.70" y="337.97" width="10.14" height="1.26" fill="#635ea4"/>
<rect x="82.79" y="337.97" width="10.14" height="1.26" fill="#6560a2"/>
<rect x="92.88" y="337.97" width="10.14" height="1.26" fill="#6560a2"/>
<rect x="102.97" y="337.97" width="10.14" height="1.26" fill="#625da4"/>
<rect x="113.07" y="337.97" width="10.14" height="1.26" fill="#5d57ab"/>
<rect x="123.16" y="337.97" width="10.14" height="1.26" fill="#6661a1"/>
<rect x="133.25" y="337.97" width="10.14" height="1.26" fill="#bdb845"/>
<rect x="143.34" y="337.97" width="10.14" height="1.26" fill="#807e82"/>
<rect x="153.43" y="337.97" width="10.14" height="1.26" fill="#d4ce2e"/>
<rect x="163.53" y="337.97" width="10.14" height="1.26" fill="#a39f5f"/>
<rect x="173.62" y="337.97" width="10.14" height="1.26" fill="#75728e"/>
<rect x="183.71" y="337.97" width="10.14" height="1.26" fill="#9b9767"/>
<rect x="72.70" y="339.18" width="10.14" height="1.26" fill="#5f5aa8"/>
<rect x="82.79" y="339.18" width="10.14" height="1.26" fill="#5d57ab"/>
<rect x="92.88" y="339.18" width="10.14" height="1.26" fill="#5f59a9"/>
<rect x="102.97" y="339.18" width="10.14" height="1.26" fill="#5d57ab"/>
<rect x="113.07" y="339.18" width="10.14" height="1.26" fill="#5e58aa"/>
<rect x="123.16" y="339.18" width="10.14" height="1.26" fill="#5b55ad"/>
<rect x="133.25" y="339.18" width="10.14" height="1.26" fill="#b8b34a"/>
<rect x="143.34" y="339.18" width="10.14" height="1.26" fill="#8a8878"/>
<rect x="153.43" y="339.18" width="10.14" height="1.26" fill="#d4ce2e"/>
<rect x="163.53" y="339.18" width="10.14" height="1.26" fill="#a4a15e"/>
<rect x="173.62" y="339.18" width="10.14" height="1.26" fill="#76738d"/>
<rect x="183.71" y="339.18" width="10.14" height="1.26" fill="#a19e61"/>
<rect x="72.70" y="340.40" width="10.14" height="1.26" fill="#625da5"/>
<rect x="82.79" y="340.40" width="10.14" height="1.26" fill="#615ca5"/>
<rect x="92.88" y="340.40" width="10.14" height="1.26" fill="#5f5aa8"/>
<rect x="102.97" y="340.40" width="10.14" height="1.26" fill="#625da5"/>
<rect x="113.07" y="340.40" width="10.14" height="1.26" fill="#635ea3"/>
<rect x="123.16" y="340.40" width="10.14" height="1.26" fill="#6560a2"/>
<rect x="133.25" y="340.40" width="10.14" height="1.26" fill="#aaa658"/>
<rect x="143.34" y="340.40" width="10.14" height="1.26" fill="#7e7c85"/>
<rect x="153.43" y="340.40" width="10.14" height="1.26" fill="#d4ce2e"/>
<rect x="163.53" y="340.40" width="10.14" height="1.26" fill="#98956a"/>
<rect x="173.62" y="340.40" width="10.14" height="1.26" fill="#75718f"/>
<rect x="183.71" y="340.40" width="10.14" height="1.26" fill="#9e9a64"/>
<rect x="72.70" y="341.61" width="10.14" height="1.26" fill="#5f5aa8"/>
<rect x="82.79" y="341.61" width="10.14" height="1.26" fill="#5d57ab"/>
<rect x="92.88" y="341.61" width="10.14" height="1.26" fill="#615ca6"/>
<rect x="102.97" y="341.61" width="10.14" height="1.26" fill="#5a54ae"/>
<rect x="113.07" y="341.61" width="10.14" height="1.26" fill="#5c56ac"/>
<rect x="123.16" y="341.61" width="10.14" height="1.26" fill="#5c56ac"/>
<rect x="133.25" y="341.61" width="10.14" height="1.26" fill="#b8b44a"/>
<rect x="143.34" y="341.61" width="10.14" height="1.26" fill="#807e82"/>
<rect x="153.43" y="341.61" width="10.14" height="1.26" fill="#d4ce2e"/>
<rect x="163.53" y="341.61" width="10.14" height="1.26" fill="#a09c62"/>
<rect x="173.62" y="341.61" width="10.14" height="1.26" fill="#78758b"/>
<rect x="183.71" y="341.61" width="10.14" height="1.26" fill="#aaa658"/>
<rect x="72.70" y="342.83" width="10.14" height="1.26" fill="#605ba7"/>
<rect x="82.79" y="342.83" width="10.14" height="1.26" fill="#5e58a9"/>
<rect x="92.88" y="342.83" width="10.14" height="1.26" fill="#5c56ac"/>
<rect x="102.97" y="342.83" width="10.14" height="1.26" fill="#615ca6"/>
<rect x="113.07" y="342.83" width="10.14" height="1.26" fill="#635da4"/>
<rect x="123.16" y="342.83" width="10.14" height="1.26" fill="#625da4"/>
<rect x="133.25" y="342.83" width="10.14" height="1.26" fill="#aea954"/>
<rect x="143.34" y="342.83" width="10.14" height="1.26" fill="#77748c"/>
<rect x="153.43" y="342.83" width="10.14" height="1.26" fill="#c5c03d"/>
<rect x="163.53" y="342.83" width="10.14" height="1.26" fill="#bbb647"/>
<rect x="173.62" y="342.83" width="10.14" height="1.26" fill="#7a7789"/>
<rect x="183.71" y="342.83" width="10.14" height="1.26" fill="#b5b04d"/>
<rect x="72.70" y="344.04" width="10.14" height="1.26" fill="#625da5"/>
<rect x="82.79" y="344.04" width="10.14" height="1.26" fill="#645fa2"/>
<rect x="92.88" y="344.04" width="10.14" height="1.26" fill="#645fa3"/>
<rect x="102.97" y="344.04" width="10.14" height="1.26" fill="#615ca6"/>
<rect x="113.07" y="344.04" width="10.14" height="1.26" fill="#635da4"/>
<rect x="123.16" y="344.04" width="10.14" height="1.26" fill="#615ca6"/>
<rect x="133.25" y="344.04" width="10.14" height="1.26" fill="#c1bc41"/>
<rect x="143.34" y="344.04" width="10.14" height="1.26" fill="#918f71"/>
<rect x="153.43" y="344.04" width="10.14" height="1.26" fill="#d4ce2e"/>
<rect x="163.53" y="344.04" width="10.14" height="1.26" fill="#aeaa54"/>
<rect x="173.62" y="344.04" width="10.14" height="1.26" fill="#77748c"/>
<rect x="183.71" y="344.04" width="10.14" height="1.26" fill="#a09c62"/>
<rect x="72.70" y="345.26" width="10.14" height="1.26" fill="#5c56ab"/>
<rect x="82.79" y="345.26" width="10.14" height="1.26" fill="#5d58aa"/>
<rect x="92.88" y="345.26" width="10.14" height="1.26" fill="#5e59a9"/>
<rect x="102.97" y="345.26" width="10.14" height="1.26" fill="#5c57ab"/>
<rect x="113.07" y="345.26" width="10.14" height="1.26" fill="#5f5aa8"/>
<rect x="123.16" y="345.26" width="10.14" height="1.26" fill="#5b55ad"/>
<rect x="133.25" y="345.26" width="10.14" height="1.26" fill="#c6c03c"/>
<rect x="143.34" y="345.26" width="10.14" height="1.26" fill="#929070"/>
<rect x="153.43" y="345.26" width="10.14" height="1.26" fill="#d4ce2e"/>
<rect x="163.53" y="345.26" width="10.14" height="1.26" fill="#a9a559"/>
<rect x="173.62" y="345.26" width="10.14" height="1.26" fill="#79768b"/>
<rect x="183.71" y="345.26" width="10.14" height="1.26" fill="#a8a45a"/>
<rect x="72.70" y="346.47" width="10.14" height="1.26" fill="#5f5aa8"/>
<rect x="82.79" y="346.47" width="10.14" height="1.26" fill="#605aa7"/>
<rect x="92.88" y="346.47" width="10.14" height="1.26" fill="#5e58aa"/>
<rect x="102.97" y="346.47" width="10.14" height="1.26" fill="#5f59a9"/>
<rect x="113.07" y="346.47" width="10.14" height="1.26" fill="#625da5"/>
<rect x="123.16" y="346.47" width="10.14" height="1.26" fill="#5c56ac"/>
<rect x="133.25" y="346.47" width="10.14" height="1.26" fill="#9b9867"/>
<rect x="143.34" y="346.47" width="10.14" height="1.26" fill="#7b7888"/>
<rect x="153.43" y="346.47" width="10.14" height="1.26" fill="#c5c03d"/>
<rect x="163.53" y="346.47" width="10.14" height="1.26" fill="#94916e"/>
<rect x="173.62" y="346.47" width="10.14" height="1.26" fill="#6c6899"/>
<rect x="183.71" y="346.47" width="10.14" height="1.26" fill="#9f9c63"/>
<rect x="72.70" y="347.69" width="10.14" height="1.26" fill="#5a54ae"/>
<rect x="82.79" y="347.69" width="10.14" height="1.26" fill="#625ca5"/>
<rect x="92.88" y="347.69" width="10.14" height="1.26" fill="#615ca6"/>
<rect x="102.97" y="347.69" width="10.14" height="1.26" fill="#5a54ae"/>
<rect x="113.07" y="347.69" width="10.14" height="1.26" fill="#5e58a9"/>
<rect x="123.16" y="347.69" width="10.14" height="1.26" fill="#5a54ae"/>
<rect x="133.25" y="347.69" width="10.14" height="1.26" fill="#bbb647"/>
<rect x="143.34" y="347.69" width="10.14" height="1.26" fill="#85837d"/>
<rect x="153.43" y="347.69" width="10.14" height="1.26" fill="#d4ce2e"/>
<rect x="163.53" y="347.69" width="10.14" height="1.26" fill="#ada955"/>
<rect x="173.62" y="347.69" width="10.14" height="1.26" fill="#7d7b86"/>
<rect x="183.71" y="347.69" width="10.14" height="1.26" fill="#b4af4e"/>
</g>
<line x1="196.4" y1="198.4" x2="196.4" y2="219.2" stroke="#000" stroke-width="1.2"/>
<line x1="196.4" y1="221.8" x2="196.4" y2="241.4" stroke="#000" stroke-width="1.2"/>
<line x1="196.4" y1="245.0" x2="196.4" y2="254.2" stroke="#000" stroke-width="1.2"/>
<line x1="196.4" y1="256.2" x2="196.4" y2="276.2" stroke="#000" stroke-width="1.2"/>
<line x1="196.4" y1="277.7" x2="196.4" y2="305.3" stroke="#000" stroke-width="1.2"/>
<line x1="196.4" y1="306.9" x2="196.4" y2="348.4" stroke="#000" stroke-width="1.2"/>
<line x1="203.80" y1="220.50" x2="200.20" y2="220.50" stroke="#000" stroke-width="1.1"/>
<path d="M197.30,220.50 L200.70,218.50 L200.70,222.50 Z" fill="#000"/>
<line x1="203.80" y1="243.70" x2="200.20" y2="243.70" stroke="#000" stroke-width="1.1"/>
<path d="M197.30,243.70 L200.70,241.70 L200.70,245.70 Z" fill="#000"/>
<text x="204.70" y="211.30" font-size="8.7" text-anchor="start" font-weight="normal" font-style="normal" fill="#000" stroke="#000" stroke-width="0.32" textLength="57.60" lengthAdjust="spacingAndGlyphs" >Cluster 1 (184)</text>
<text x="204.70" y="223.90" font-size="8.7" text-anchor="start" font-weight="normal" font-style="normal" fill="#000" stroke="#000" stroke-width="0.32" textLength="52.60" lengthAdjust="spacingAndGlyphs" >Cluster 2 (35)</text>
<text x="204.70" y="235.40" font-size="8.7" text-anchor="start" font-weight="normal" font-style="normal" fill="#000" stroke="#000" stroke-width="0.32" textLength="57.60" lengthAdjust="spacingAndGlyphs" >Cluster 3 (173)</text>
<text x="204.70" y="245.50" font-size="8.7" text-anchor="start" font-weight="normal" font-style="normal" fill="#000" stroke="#000" stroke-width="0.32" textLength="52.60" lengthAdjust="spacingAndGlyphs" >Cluster 4 (28)</text>
<text x="204.70" y="253.30" font-size="8.7" text-anchor="start" font-weight="normal" font-style="normal" fill="#000" stroke="#000" stroke-width="0.32" textLength="52.60" lengthAdjust="spacingAndGlyphs" >Cluster 5 (76)</text>
<text x="204.70" y="269.90" font-size="8.7" text-anchor="start" font-weight="normal" font-style="normal" fill="#000" stroke="#000" stroke-width="0.32" textLength="57.60" lengthAdjust="spacingAndGlyphs" >Cluster 6 (204)</text>
<text x="204.70" y="295.50" font-size="8.7" text-anchor="start" font-weight="normal" font-style="normal" fill="#000" stroke="#000" stroke-width="0.32" textLength="57.60" lengthAdjust="spacingAndGlyphs" >Cluster 7 (257)</text>
<text x="204.70" y="330.40" font-size="8.7" text-anchor="start" font-weight="normal" font-style="normal" fill="#000" stroke="#000" stroke-width="0.32" textLength="57.60" lengthAdjust="spacingAndGlyphs" >Cluster 8 (375)</text>
<text x="34.50" y="359.70" font-size="9" text-anchor="start" font-weight="normal" font-style="normal" fill="#000" stroke="#000" stroke-width="0.32" textLength="35.60" lengthAdjust="spacingAndGlyphs" >Ly6a-GFP</text>
<text x="76.50" y="359.70" font-size="9.5" text-anchor="middle" font-weight="normal" font-style="normal" fill="#000" stroke="#000" stroke-width="0.42" >+</text>
<text x="87.30" y="359.70" font-size="9.5" text-anchor="middle" font-weight="normal" font-style="normal" fill="#000" stroke="#000" stroke-width="0.42" >+</text>
<text x="97.50" y="359.70" font-size="9.5" text-anchor="middle" font-weight="normal" font-style="normal" fill="#000" stroke="#000" stroke-width="0.42" >+</text>
<rect x="106.20" y="354.9" width="2.6" height="1.1" fill="#000"/>
<rect x="117.00" y="354.9" width="2.6" height="1.1" fill="#000"/>
<rect x="126.90" y="354.9" width="2.6" height="1.1" fill="#000"/>
<text x="137.70" y="359.70" font-size="9.5" text-anchor="middle" font-weight="normal" font-style="normal" fill="#000" stroke="#000" stroke-width="0.42" >+</text>
<text x="148.70" y="359.70" font-size="9.5" text-anchor="middle" font-weight="normal" font-style="normal" fill="#000" stroke="#000" stroke-width="0.42" >+</text>
<text x="158.70" y="359.70" font-size="9.5" text-anchor="middle" font-weight="normal" font-style="normal" fill="#000" stroke="#000" stroke-width="0.42" >+</text>
<rect x="168.30" y="354.9" width="2.6" height="1.1" fill="#000"/>
<rect x="178.50" y="354.9" width="2.6" height="1.1" fill="#000"/>
<rect x="188.50" y="354.9" width="2.6" height="1.1" fill="#000"/>
<line x1="75.20" y1="361.9" x2="98.00" y2="361.9" stroke="#000" stroke-width="1"/>
<line x1="107.50" y1="361.9" x2="130.40" y2="361.9" stroke="#000" stroke-width="1"/>
<line x1="137.00" y1="361.9" x2="160.20" y2="361.9" stroke="#000" stroke-width="1"/>
<line x1="168.30" y1="361.9" x2="191.20" y2="361.9" stroke="#000" stroke-width="1"/>
<text x="75.30" y="373.70" font-size="9" text-anchor="start" font-weight="normal" font-style="normal" fill="#000" stroke="#000" stroke-width="0.32" textLength="23.40" lengthAdjust="spacingAndGlyphs" >Endo</text>
<text x="106.30" y="373.70" font-size="9" text-anchor="start" font-weight="normal" font-style="normal" fill="#000" stroke="#000" stroke-width="0.32" textLength="23.60" lengthAdjust="spacingAndGlyphs" >Endo</text>
<text x="137.30" y="373.70" font-size="9" text-anchor="start" font-weight="normal" font-style="normal" fill="#000" stroke="#000" stroke-width="0.32" textLength="24.00" lengthAdjust="spacingAndGlyphs" >HCCs</text>
<text x="168.50" y="373.70" font-size="9" text-anchor="start" font-weight="normal" font-style="normal" fill="#000" stroke="#000" stroke-width="0.32" textLength="24.80" lengthAdjust="spacingAndGlyphs" >HCCs</text>
<text x="214.50" y="352.50" font-size="8.3" text-anchor="start" font-weight="normal" font-style="normal" fill="#000" stroke="#000" stroke-width="0.32" textLength="43.70" lengthAdjust="spacingAndGlyphs" >Row Z-score</text>
<defs><linearGradient id="zg" x1="0" x2="1" y1="0" y2="0"><stop offset="0" stop-color="#34349a"/><stop offset="0.25" stop-color="#5050a4"/><stop offset="0.5" stop-color="#8c8a86"/><stop offset="0.75" stop-color="#c6c250"/><stop offset="1" stop-color="#f4f020"/></linearGradient></defs>
<rect x="210.2" y="357.3" width="49" height="6.4" fill="url(#zg)" stroke="#222" stroke-width="0.9"/>
<text x="209.70" y="372.40" font-size="8.6" text-anchor="start" font-weight="normal" font-style="normal" fill="#000" stroke="#000" stroke-width="0.32" textLength="6.60" lengthAdjust="spacingAndGlyphs" >-2</text>
<text x="219.70" y="372.40" font-size="8.6" text-anchor="start" font-weight="normal" font-style="normal" fill="#000" stroke="#000" stroke-width="0.32" textLength="6.60" lengthAdjust="spacingAndGlyphs" >-1</text>
<text x="232.70" y="372.40" font-size="8.6" text-anchor="start" font-weight="normal" font-style="normal" fill="#000" stroke="#000" stroke-width="0.32" textLength="4.80" lengthAdjust="spacingAndGlyphs" >0</text>
<text x="243.20" y="372.40" font-size="8.6" text-anchor="start" font-weight="normal" font-style="normal" fill="#000" stroke="#000" stroke-width="0.32" textLength="3.70" lengthAdjust="spacingAndGlyphs" >1</text>
<text x="251.50" y="372.40" font-size="8.6" text-anchor="start" font-weight="normal" font-style="normal" fill="#000" stroke="#000" stroke-width="0.32" textLength="4.80" lengthAdjust="spacingAndGlyphs" >2</text>
<text x="206.40" y="412.60" font-size="10.6" text-anchor="start" font-weight="normal" font-style="normal" fill="#000" stroke="#000" stroke-width="0.32" textLength="41.90" lengthAdjust="spacingAndGlyphs" >Cluster 3</text>
<rect x="173.8" y="418.05" width="109.84" height="5.6" fill="#3e3f96"/>
<text x="49.30" y="422.85" font-size="9" text-anchor="start" font-weight="normal" font-style="normal" fill="#000" stroke="#000" stroke-width="0.32" textLength="119.60" lengthAdjust="spacingAndGlyphs" >regulation of defense response</text>
<rect x="173.8" y="429.88" width="84.27" height="5.6" fill="#3e3f96"/>
<text x="94.30" y="434.68" font-size="9" text-anchor="start" font-weight="normal" font-style="normal" fill="#000" stroke="#000" stroke-width="0.32" textLength="74.60" lengthAdjust="spacingAndGlyphs" >leukocyte migration</text>
<rect x="173.8" y="441.71" width="80.58" height="5.6" fill="#3e3f96"/>
<text x="109.30" y="446.51" font-size="9" text-anchor="start" font-weight="normal" font-style="normal" fill="#000" stroke="#000" stroke-width="0.32" textLength="59.60" lengthAdjust="spacingAndGlyphs" >B cell activation</text>
<rect x="173.8" y="453.54" width="79.12" height="5.6" fill="#3e3f96"/>
<text x="38.50" y="458.34" font-size="9" text-anchor="start" font-weight="normal" font-style="normal" fill="#000" stroke="#000" stroke-width="0.32" textLength="130.40" lengthAdjust="spacingAndGlyphs" >hematopoietic organ development</text>
<rect x="173.8" y="465.37" width="69.01" height="5.6" fill="#3e3f96"/>
<text x="27.90" y="470.17" font-size="9" text-anchor="start" font-weight="normal" font-style="normal" fill="#000" stroke="#000" stroke-width="0.32" textLength="141.00" lengthAdjust="spacingAndGlyphs" >cytokine-mediated signaling pathway</text>
<rect x="173.8" y="477.20" width="68.33" height="5.6" fill="#3e3f96"/>
<text x="49.30" y="482.00" font-size="9" text-anchor="start" font-weight="normal" font-style="normal" fill="#000" stroke="#000" stroke-width="0.32" textLength="119.60" lengthAdjust="spacingAndGlyphs" >lymphocyte mediated immunity</text>
<rect x="173.8" y="489.03" width="67.07" height="5.6" fill="#3e3f96"/>
<text x="46.50" y="493.83" font-size="9" text-anchor="start" font-weight="normal" font-style="normal" fill="#000" stroke="#000" stroke-width="0.32" textLength="122.40" lengthAdjust="spacingAndGlyphs" >regulation of signal transduction</text>
<rect x="173.8" y="500.86" width="49.09" height="5.6" fill="#3e3f96"/>
<text x="6.60" y="505.86" font-size="9.4" text-anchor="start" font-weight="normal" font-style="normal" fill="#333" stroke="#333" stroke-width="0.25" textLength="162.30" lengthAdjust="spacingAndGlyphs" >enzyme linked receptor signaling pathway</text>
<rect x="173.8" y="512.69" width="47.92" height="5.6" fill="#3e3f96"/>
<text x="60.40" y="517.49" font-size="9" text-anchor="start" font-weight="normal" font-style="normal" fill="#000" stroke="#000" stroke-width="0.32" textLength="108.50" lengthAdjust="spacingAndGlyphs" >protein modification process</text>
<rect x="173.8" y="524.52" width="47.63" height="5.6" fill="#3e3f96"/>
<text x="105.40" y="529.32" font-size="9" text-anchor="start" font-weight="normal" font-style="normal" fill="#000" stroke="#000" stroke-width="0.32" textLength="63.50" lengthAdjust="spacingAndGlyphs" >protein transport</text>
<rect x="173.8" y="414.5" width="117" height="116.8" fill="none" stroke="#222" stroke-width="1.1"/>
<line x1="173.80" y1="531.3" x2="173.80" y2="533.4" stroke="#222" stroke-width="1"/>
<text x="174.30" y="542.40" font-size="8.4" text-anchor="middle" font-weight="normal" font-style="normal" fill="#000" stroke="#000" stroke-width="0.21" >0</text>
<line x1="212.68" y1="531.3" x2="212.68" y2="533.4" stroke="#222" stroke-width="1"/>
<text x="213.18" y="542.40" font-size="8.4" text-anchor="middle" font-weight="normal" font-style="normal" fill="#000" stroke="#000" stroke-width="0.21" >4</text>
<line x1="251.56" y1="531.3" x2="251.56" y2="533.4" stroke="#222" stroke-width="1"/>
<text x="252.06" y="542.40" font-size="8.4" text-anchor="middle" font-weight="normal" font-style="normal" fill="#000" stroke="#000" stroke-width="0.21" >8</text>
<line x1="290.44" y1="531.3" x2="290.44" y2="533.4" stroke="#222" stroke-width="1"/>
<text x="290.94" y="542.40" font-size="8.4" text-anchor="middle" font-weight="normal" font-style="normal" fill="#000" stroke="#000" stroke-width="0.21" >12</text>
<text x="176.90" y="551.80" font-size="9" text-anchor="start" font-weight="normal" font-style="normal" fill="#000" stroke="#000" stroke-width="0.32" textLength="110.40" lengthAdjust="spacingAndGlyphs" >-log<tspan font-size="6" baseline-shift="-2">10</tspan> (enrichment p-value)</text>
<text x="350.70" y="185.90" font-size="10.4" text-anchor="start" font-weight="normal" font-style="normal" fill="#000" stroke="#000" stroke-width="0.36" textLength="98.80" lengthAdjust="spacingAndGlyphs" >HCCs GFP<tspan font-size="8" baseline-shift="1.5">+</tspan> vs. GFP<tspan font-size="8" baseline-shift="1.5">-</tspan></text>
<rect x="314.7" y="192.0" width="169.8" height="15.6" fill="#000"/>
<text x="315.80" y="203.80" font-size="9.5" text-anchor="start" font-weight="normal" font-style="normal" fill="#fff" stroke="#fff" stroke-width="0.32" textLength="23.10" lengthAdjust="spacingAndGlyphs" >Gene</text>
<text x="376.30" y="203.80" font-size="9.5" text-anchor="start" font-weight="normal" font-style="normal" fill="#fff" stroke="#fff" stroke-width="0.32" textLength="12.70" lengthAdjust="spacingAndGlyphs" >FC</text>
<text x="438.50" y="203.80" font-size="9.5" text-anchor="start" font-weight="normal" font-style="normal" fill="#fff" stroke="#fff" stroke-width="0.32" textLength="20.30" lengthAdjust="spacingAndGlyphs" >FDR</text>
<text x="315.20" y="216.80" font-size="8.5" text-anchor="start" font-weight="normal" font-style="italic" fill="#000" stroke="#000" stroke-width="0.42" >Selp</text>
<text x="399.40" y="219.20" font-size="8.8" text-anchor="end" font-weight="normal" font-style="normal" fill="#000" stroke="#000" stroke-width="0.42" >27.669</text>
<text x="435.20" y="218.00" font-size="8.8" text-anchor="start" font-weight="normal" font-style="normal" fill="#000" stroke="#000" stroke-width="0.42" >5.263E-30</text>
<text x="315.20" y="228.84" font-size="8.5" text-anchor="start" font-weight="normal" font-style="italic" fill="#000" stroke="#000" stroke-width="0.42" >Gpr171</text>
<text x="399.40" y="231.24" font-size="8.8" text-anchor="end" font-weight="normal" font-style="normal" fill="#000" stroke="#000" stroke-width="0.42" >16.025</text>
<text x="435.20" y="230.04" font-size="8.8" text-anchor="start" font-weight="normal" font-style="normal" fill="#000" stroke="#000" stroke-width="0.42" >1.509E-18</text>
<text x="315.20" y="240.88" font-size="8.5" text-anchor="start" font-weight="normal" font-style="italic" fill="#000" stroke="#000" stroke-width="0.42" >Spn</text>
<text x="399.40" y="243.28" font-size="8.8" text-anchor="end" font-weight="normal" font-style="normal" fill="#000" stroke="#000" stroke-width="0.42" >14.024</text>
<text x="435.20" y="242.08" font-size="8.8" text-anchor="start" font-weight="normal" font-style="normal" fill="#000" stroke="#000" stroke-width="0.42" >4.941E-49</text>
<text x="315.20" y="252.92" font-size="8.5" text-anchor="start" font-weight="normal" font-style="italic" fill="#000" stroke="#000" stroke-width="0.42" >Ly6a</text>
<text x="399.40" y="255.32" font-size="8.8" text-anchor="end" font-weight="normal" font-style="normal" fill="#000" stroke="#000" stroke-width="0.42" >13.379</text>
<text x="435.20" y="254.12" font-size="8.8" text-anchor="start" font-weight="normal" font-style="normal" fill="#000" stroke="#000" stroke-width="0.42" >2.98E-6</text>
<text x="315.20" y="264.96" font-size="8.5" text-anchor="start" font-weight="normal" font-style="italic" fill="#000" stroke="#000" stroke-width="0.42" >Tnfrsf7</text>
<text x="399.40" y="267.36" font-size="8.8" text-anchor="end" font-weight="normal" font-style="normal" fill="#000" stroke="#000" stroke-width="0.42" >9.700</text>
<text x="435.20" y="266.16" font-size="8.8" text-anchor="start" font-weight="normal" font-style="normal" fill="#000" stroke="#000" stroke-width="0.42" >2.553E-13</text>
<text x="315.20" y="277.00" font-size="8.5" text-anchor="start" font-weight="normal" font-style="italic" fill="#000" stroke="#000" stroke-width="0.42" >Gpr56</text>
<text x="399.40" y="279.40" font-size="8.8" text-anchor="end" font-weight="normal" font-style="normal" fill="#000" stroke="#000" stroke-width="0.42" >8.613</text>
<text x="435.20" y="278.20" font-size="8.8" text-anchor="start" font-weight="normal" font-style="normal" fill="#000" stroke="#000" stroke-width="0.42" >5.862E-69</text>
<text x="315.20" y="289.04" font-size="8.5" text-anchor="start" font-weight="normal" font-style="italic" fill="#000" stroke="#000" stroke-width="0.42" >Gpr132</text>
<text x="399.40" y="291.44" font-size="8.8" text-anchor="end" font-weight="normal" font-style="normal" fill="#000" stroke="#000" stroke-width="0.42" >5.244</text>
<text x="435.20" y="290.24" font-size="8.8" text-anchor="start" font-weight="normal" font-style="normal" fill="#000" stroke="#000" stroke-width="0.42" >5.291E-06</text>
<text x="315.20" y="301.08" font-size="8.5" text-anchor="start" font-weight="normal" font-style="italic" fill="#000" stroke="#000" stroke-width="0.42" >Cd74</text>
<text x="399.40" y="303.48" font-size="8.8" text-anchor="end" font-weight="normal" font-style="normal" fill="#000" stroke="#000" stroke-width="0.42" >3.819</text>
<text x="435.20" y="302.28" font-size="8.8" text-anchor="start" font-weight="normal" font-style="normal" fill="#000" stroke="#000" stroke-width="0.42" >0.0029</text>
<text x="315.20" y="313.12" font-size="8.5" text-anchor="start" font-weight="normal" font-style="italic" fill="#000" stroke="#000" stroke-width="0.42" >Cd274</text>
<text x="399.40" y="315.52" font-size="8.8" text-anchor="end" font-weight="normal" font-style="normal" fill="#000" stroke="#000" stroke-width="0.42" >3.737</text>
<text x="435.20" y="314.32" font-size="8.8" text-anchor="start" font-weight="normal" font-style="normal" fill="#000" stroke="#000" stroke-width="0.42" >5.331E-06</text>
<text x="315.20" y="325.16" font-size="8.5" text-anchor="start" font-weight="normal" font-style="italic" fill="#000" stroke="#000" stroke-width="0.42" >Procr</text>
<text x="399.40" y="327.56" font-size="8.8" text-anchor="end" font-weight="normal" font-style="normal" fill="#000" stroke="#000" stroke-width="0.42" >3.490</text>
<text x="435.20" y="326.36" font-size="8.8" text-anchor="start" font-weight="normal" font-style="normal" fill="#000" stroke="#000" stroke-width="0.42" >1.183E-35</text>
<text x="315.20" y="337.20" font-size="8.5" text-anchor="start" font-weight="normal" font-style="italic" fill="#000" stroke="#000" stroke-width="0.42" >Gpr126</text>
<text x="399.40" y="339.60" font-size="8.8" text-anchor="end" font-weight="normal" font-style="normal" fill="#000" stroke="#000" stroke-width="0.42" >3.423</text>
<text x="435.20" y="338.40" font-size="8.8" text-anchor="start" font-weight="normal" font-style="normal" fill="#000" stroke="#000" stroke-width="0.42" >9.493E-45</text>
<text x="315.20" y="349.24" font-size="8.5" text-anchor="start" font-weight="normal" font-style="italic" fill="#000" stroke="#000" stroke-width="0.42" >Itgal</text>
<text x="399.40" y="351.64" font-size="8.8" text-anchor="end" font-weight="normal" font-style="normal" fill="#000" stroke="#000" stroke-width="0.42" >2.746</text>
<text x="435.20" y="350.44" font-size="8.8" text-anchor="start" font-weight="normal" font-style="normal" fill="#000" stroke="#000" stroke-width="0.42" >0.0019</text>
<text x="315.20" y="361.28" font-size="8.5" text-anchor="start" font-weight="normal" font-style="italic" fill="#000" stroke="#000" stroke-width="0.42" >Cd44</text>
<text x="399.40" y="363.68" font-size="8.8" text-anchor="end" font-weight="normal" font-style="normal" fill="#000" stroke="#000" stroke-width="0.42" >2.706</text>
<text x="435.20" y="362.48" font-size="8.8" text-anchor="start" font-weight="normal" font-style="normal" fill="#000" stroke="#000" stroke-width="0.42" >9.511E-10</text>
<text x="315.20" y="373.32" font-size="8.5" text-anchor="start" font-weight="normal" font-style="italic" fill="#000" stroke="#000" stroke-width="0.42" >Cd37</text>
<text x="399.40" y="375.72" font-size="8.8" text-anchor="end" font-weight="normal" font-style="normal" fill="#000" stroke="#000" stroke-width="0.42" >2.608</text>
<text x="435.20" y="374.52" font-size="8.8" text-anchor="start" font-weight="normal" font-style="normal" fill="#000" stroke="#000" stroke-width="0.42" >0.0004</text>
<text x="315.20" y="385.36" font-size="8.5" text-anchor="start" font-weight="normal" font-style="italic" fill="#000" stroke="#000" stroke-width="0.42" >Csf3r</text>
<text x="399.40" y="387.76" font-size="8.8" text-anchor="end" font-weight="normal" font-style="normal" fill="#000" stroke="#000" stroke-width="0.42" >2.430</text>
<text x="435.20" y="386.56" font-size="8.8" text-anchor="start" font-weight="normal" font-style="normal" fill="#000" stroke="#000" stroke-width="0.42" >4.565E-08</text>
<text x="315.20" y="397.40" font-size="8.5" text-anchor="start" font-weight="normal" font-style="italic" fill="#000" stroke="#000" stroke-width="0.42" >Ly6e</text>
<text x="399.40" y="399.80" font-size="8.8" text-anchor="end" font-weight="normal" font-style="normal" fill="#000" stroke="#000" stroke-width="0.42" >2.255</text>
<text x="435.20" y="398.60" font-size="8.8" text-anchor="start" font-weight="normal" font-style="normal" fill="#000" stroke="#000" stroke-width="0.42" >0.0187</text>
<text x="315.20" y="409.44" font-size="8.5" text-anchor="start" font-weight="normal" font-style="italic" fill="#000" stroke="#000" stroke-width="0.42" >Itga4</text>
<text x="399.40" y="411.84" font-size="8.8" text-anchor="end" font-weight="normal" font-style="normal" fill="#000" stroke="#000" stroke-width="0.42" >2.145</text>
<text x="435.20" y="410.64" font-size="8.8" text-anchor="start" font-weight="normal" font-style="normal" fill="#000" stroke="#000" stroke-width="0.42" >1.203E-08</text>
<text x="315.20" y="421.48" font-size="8.5" text-anchor="start" font-weight="normal" font-style="italic" fill="#000" stroke="#000" stroke-width="0.42" >Itgb2</text>
<text x="399.40" y="423.88" font-size="8.8" text-anchor="end" font-weight="normal" font-style="normal" fill="#000" stroke="#000" stroke-width="0.42" >2.107</text>
<text x="435.20" y="422.68" font-size="8.8" text-anchor="start" font-weight="normal" font-style="normal" fill="#000" stroke="#000" stroke-width="0.42" >0.0172</text>
<line x1="312.1" y1="430.2" x2="480.7" y2="430.2" stroke="#222" stroke-width="1.7"/>
<text x="400.60" y="456.40" font-size="10.2" text-anchor="start" font-weight="bold" font-style="normal" fill="#000" textLength="28.30" lengthAdjust="spacingAndGlyphs" >qPCR</text>
<g stroke="#222" stroke-width="1.2" fill="none">
<line x1="377.6" y1="453.60" x2="377.6" y2="564.60"/>
<line x1="377.0" y1="564.00" x2="451.5" y2="564.00"/>
<line x1="374.8" y1="564.00" x2="377.6" y2="564.00"/>
<line x1="374.8" y1="536.40" x2="377.6" y2="536.40"/>
<line x1="374.8" y1="508.80" x2="377.6" y2="508.80"/>
<line x1="374.8" y1="481.20" x2="377.6" y2="481.20"/>
<line x1="374.8" y1="453.60" x2="377.6" y2="453.60"/>
<line x1="387.4" y1="564.00" x2="387.4" y2="566.40"/>
<line x1="405.9" y1="564.00" x2="405.9" y2="566.40"/>
<line x1="424.9" y1="564.00" x2="424.9" y2="566.40"/>
<line x1="443.5" y1="564.00" x2="443.5" y2="566.40"/>
</g>
<text x="361.50" y="567.00" font-size="8.8" text-anchor="start" font-weight="normal" font-style="normal" fill="#000" stroke="#000" stroke-width="0.32" textLength="12.30" lengthAdjust="spacingAndGlyphs" >0.0</text>
<text x="361.50" y="539.40" font-size="8.8" text-anchor="start" font-weight="normal" font-style="normal" fill="#000" stroke="#000" stroke-width="0.32" textLength="12.30" lengthAdjust="spacingAndGlyphs" >0.1</text>
<text x="361.50" y="511.80" font-size="8.8" text-anchor="start" font-weight="normal" font-style="normal" fill="#000" stroke="#000" stroke-width="0.32" textLength="12.30" lengthAdjust="spacingAndGlyphs" >0.2</text>
<text x="361.50" y="484.20" font-size="8.8" text-anchor="start" font-weight="normal" font-style="normal" fill="#000" stroke="#000" stroke-width="0.32" textLength="12.30" lengthAdjust="spacingAndGlyphs" >0.3</text>
<text x="361.50" y="456.60" font-size="8.8" text-anchor="start" font-weight="normal" font-style="normal" fill="#000" stroke="#000" stroke-width="0.32" textLength="12.30" lengthAdjust="spacingAndGlyphs" >0.4</text>
<text transform="translate(352.8,577.6) rotate(-90)" font-size="10" fill="#000" stroke="#000" stroke-width="0.12" textLength="125.8" lengthAdjust="spacingAndGlyphs">Fold difference <tspan font-style="italic">Tnfrsf7 / Hprt</tspan></text>
<g stroke="#1a1a1a" stroke-width="1.3">
<line x1="387.4" y1="480.6" x2="387.4" y2="547.6"/>
<line x1="384.2" y1="480.6" x2="390.59999999999997" y2="480.6"/>
<line x1="384.2" y1="547.6" x2="390.59999999999997" y2="547.6"/>
<rect x="381.3" y="488.1" width="12.199999999999989" height="56.5" fill="#b0102e"/>
<line x1="381.3" y1="517.5" x2="393.5" y2="517.5"/>
</g>
<g stroke="#1a1a1a" stroke-width="1.3">
<line x1="405.9" y1="543.0" x2="405.9" y2="554.7"/>
<line x1="402.7" y1="543.0" x2="409.09999999999997" y2="543.0"/>
<line x1="402.7" y1="554.7" x2="409.09999999999997" y2="554.7"/>
<rect x="399.4" y="545.3" width="13.0" height="8.200000000000045" fill="#3b5693"/>
<line x1="399.4" y1="550.0" x2="412.4" y2="550.0"/>
</g>
<g stroke="#1a1a1a" stroke-width="1.3">
<line x1="424.9" y1="540.6" x2="424.9" y2="560.6"/>
<line x1="421.7" y1="540.6" x2="428.09999999999997" y2="540.6"/>
<line x1="421.7" y1="560.6" x2="428.09999999999997" y2="560.6"/>
<rect x="418.2" y="544.1" width="13.400000000000034" height="15.299999999999955" fill="#d9401e"/>
<line x1="418.2" y1="551.6" x2="431.6" y2="551.6"/>
</g>
<g stroke="#1a1a1a" stroke-width="1.3">
<line x1="443.5" y1="547.5" x2="443.5" y2="555.5"/>
<line x1="440.3" y1="547.5" x2="446.7" y2="547.5"/>
<line x1="440.3" y1="555.5" x2="446.7" y2="555.5"/>
<rect x="437.0" y="548.4" width="13.0" height="6.300000000000068" fill="#3b5693"/>
<line x1="437.0" y1="551.6" x2="450.0" y2="551.6"/>
</g>
<text x="387.20" y="476.40" font-size="8.5" text-anchor="middle" font-weight="normal" font-style="normal" fill="#000" stroke="#000" stroke-width="0.21" >#</text>
<text x="405.80" y="537.40" font-size="9.5" text-anchor="middle" font-weight="bold" font-style="normal" fill="#000" >**</text>
<text x="424.60" y="537.40" font-size="9.5" text-anchor="middle" font-weight="bold" font-style="normal" fill="#000" >**</text>
<text x="443.40" y="537.40" font-size="9.5" text-anchor="middle" font-weight="bold" font-style="normal" fill="#000" >**</text>
<text x="386.50" y="577.60" font-size="9.2" text-anchor="middle" font-weight="normal" font-style="normal" fill="#000" stroke="#000" stroke-width="0.32" >H</text>
<text x="405.30" y="577.60" font-size="9.2" text-anchor="middle" font-weight="normal" font-style="normal" fill="#000" stroke="#000" stroke-width="0.32" >H</text>
<text x="425.30" y="577.60" font-size="9.2" text-anchor="middle" font-weight="normal" font-style="normal" fill="#000" stroke="#000" stroke-width="0.32" >E</text>
<text x="443.40" y="577.60" font-size="9.2" text-anchor="middle" font-weight="normal" font-style="normal" fill="#000" stroke="#000" stroke-width="0.32" >E</text>
<rect x="443.6" y="466" width="10.8" height="10.6" fill="#b0102e"/>
<rect x="443.6" y="480.2" width="10.8" height="10.4" fill="#3b5693"/>
<text x="461.30" y="474.50" font-size="9.3" text-anchor="start" font-weight="normal" font-style="normal" fill="#000" stroke="#000" stroke-width="0.32" textLength="45.50" lengthAdjust="spacingAndGlyphs" >Ly6a-GFP<tspan font-size="7" baseline-shift="2.2">+</tspan></text>
<text x="461.30" y="488.90" font-size="9.3" text-anchor="start" font-weight="normal" font-style="normal" fill="#000" stroke="#000" stroke-width="0.32" textLength="43.00" lengthAdjust="spacingAndGlyphs" >Ly6a-GFP<tspan font-size="7" baseline-shift="2.2">-</tspan></text>
<rect x="0" y="0" width="1.4" height="595" fill="#000"/>
<rect x="0" y="0" width="520" height="1.4" fill="#000"/>
<rect x="518.5" y="0" width="1.5" height="595" fill="#000"/>
<rect x="0" y="593.3" width="520" height="1.7" fill="#000"/>
</g>
</svg>
</div></body></html>
